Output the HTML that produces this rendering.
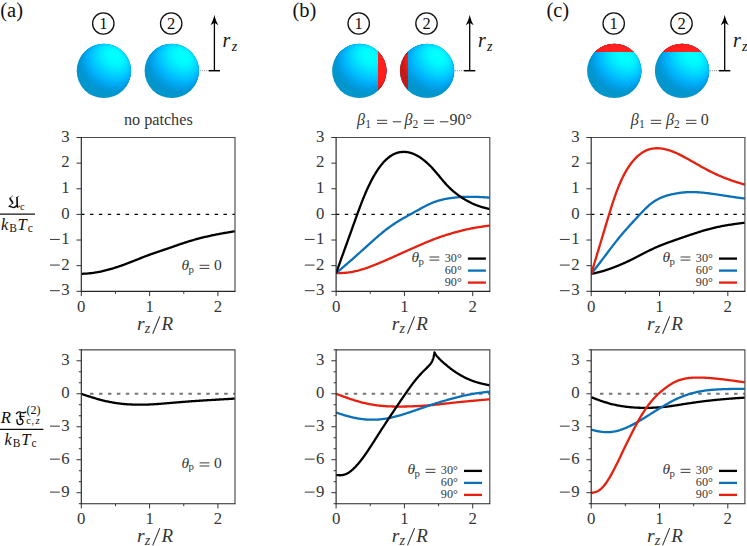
<!DOCTYPE html>
<html><head><meta charset="utf-8"><title>figure</title>
<style>html,body{margin:0;padding:0;background:#fff;}svg{display:block;}</style></head>
<body>
<svg width="747" height="546" viewBox="0 0 747 546" font-family="Liberation Serif, serif">
<rect width="747" height="546" fill="#fff"/>
<defs>
<clipPath id="sclip"><circle cx="0" cy="0" r="27.2"/></clipPath>
<clipPath id="pR"><rect x="19.1" y="-28.2" width="12" height="56.4"/></clipPath>
<clipPath id="pL"><rect x="-29.2" y="-28.2" width="10.099999999999998" height="56.4"/></clipPath>
<clipPath id="pT"><rect x="-28.2" y="-29.2" width="56.4" height="10.3"/></clipPath>
<g id="sphC" clip-path="url(#sclip)">
<circle cx="0" cy="0" r="28.2" fill="rgb(3,150,204)"/>
<g transform="rotate(-54.5)">
<ellipse cx="0.33" cy="0" rx="19.74" ry="27.20" fill="rgb(3,150,206)"/>
<ellipse cx="1.00" cy="0" rx="19.72" ry="27.16" fill="rgb(3,150,209)"/>
<ellipse cx="1.67" cy="0" rx="19.67" ry="27.09" fill="rgb(3,151,212)"/>
<ellipse cx="2.34" cy="0" rx="19.59" ry="26.99" fill="rgb(3,152,216)"/>
<ellipse cx="3.01" cy="0" rx="19.49" ry="26.85" fill="rgb(3,154,219)"/>
<ellipse cx="3.68" cy="0" rx="19.36" ry="26.67" fill="rgb(2,155,222)"/>
<ellipse cx="4.34" cy="0" rx="19.21" ry="26.46" fill="rgb(2,157,226)"/>
<ellipse cx="5.01" cy="0" rx="19.03" ry="26.21" fill="rgb(2,159,229)"/>
<ellipse cx="5.68" cy="0" rx="18.82" ry="25.92" fill="rgb(2,162,232)"/>
<ellipse cx="6.35" cy="0" rx="18.58" ry="25.59" fill="rgb(2,165,235)"/>
<ellipse cx="7.02" cy="0" rx="18.31" ry="25.22" fill="rgb(2,168,239)"/>
<ellipse cx="7.69" cy="0" rx="18.00" ry="24.80" fill="rgb(2,171,242)"/>
<ellipse cx="8.35" cy="0" rx="17.67" ry="24.34" fill="rgb(2,174,245)"/>
<ellipse cx="9.02" cy="0" rx="17.30" ry="23.83" fill="rgb(2,178,249)"/>
<ellipse cx="9.69" cy="0" rx="16.89" ry="23.27" fill="rgb(1,182,252)"/>
<ellipse cx="10.36" cy="0" rx="16.45" ry="22.65" fill="rgb(1,187,255)"/>
<ellipse cx="11.03" cy="0" rx="15.95" ry="21.98" fill="rgb(1,191,255)"/>
<ellipse cx="11.70" cy="0" rx="15.42" ry="21.23" fill="rgb(1,196,255)"/>
<ellipse cx="12.36" cy="0" rx="14.82" ry="20.42" fill="rgb(1,201,255)"/>
<ellipse cx="13.03" cy="0" rx="14.17" ry="19.52" fill="rgb(1,207,255)"/>
<ellipse cx="13.70" cy="0" rx="13.45" ry="18.53" fill="rgb(1,213,255)"/>
<ellipse cx="14.37" cy="0" rx="12.65" ry="17.42" fill="rgb(1,218,255)"/>
<ellipse cx="15.04" cy="0" rx="11.75" ry="16.19" fill="rgb(1,225,255)"/>
<ellipse cx="15.71" cy="0" rx="10.74" ry="14.79" fill="rgb(0,231,255)"/>
<ellipse cx="16.37" cy="0" rx="9.56" ry="13.17" fill="rgb(0,238,255)"/>
<ellipse cx="17.04" cy="0" rx="8.16" ry="11.23" fill="rgb(0,245,255)"/>
<ellipse cx="17.71" cy="0" rx="6.38" ry="8.78" fill="rgb(0,252,255)"/>
<ellipse cx="18.38" cy="0" rx="3.72" ry="5.12" fill="rgb(0,255,255)"/>
</g></g>
<g id="sphR" clip-path="url(#sclip)">
<circle cx="0" cy="0" r="28.2" fill="rgb(198,24,22)"/>
<g transform="rotate(-54.5)">
<ellipse cx="0.33" cy="0" rx="19.74" ry="27.20" fill="rgb(201,24,22)"/>
<ellipse cx="1.00" cy="0" rx="19.72" ry="27.16" fill="rgb(206,25,23)"/>
<ellipse cx="1.67" cy="0" rx="19.67" ry="27.09" fill="rgb(211,25,23)"/>
<ellipse cx="2.34" cy="0" rx="19.59" ry="26.99" fill="rgb(217,26,24)"/>
<ellipse cx="3.01" cy="0" rx="19.49" ry="26.85" fill="rgb(222,26,24)"/>
<ellipse cx="3.68" cy="0" rx="19.36" ry="26.67" fill="rgb(227,26,24)"/>
<ellipse cx="4.34" cy="0" rx="19.21" ry="26.46" fill="rgb(233,27,25)"/>
<ellipse cx="5.01" cy="0" rx="19.03" ry="26.21" fill="rgb(238,27,25)"/>
<ellipse cx="5.68" cy="0" rx="18.82" ry="25.92" fill="rgb(244,28,26)"/>
<ellipse cx="6.35" cy="0" rx="18.58" ry="25.59" fill="rgb(249,28,26)"/>
<ellipse cx="7.02" cy="0" rx="18.31" ry="25.22" fill="rgb(254,28,26)"/>
<ellipse cx="7.69" cy="0" rx="18.00" ry="24.80" fill="rgb(255,29,27)"/>
<ellipse cx="8.35" cy="0" rx="17.67" ry="24.34" fill="rgb(255,29,27)"/>
<ellipse cx="9.02" cy="0" rx="17.30" ry="23.83" fill="rgb(255,30,28)"/>
<ellipse cx="9.69" cy="0" rx="16.89" ry="23.27" fill="rgb(255,30,28)"/>
<ellipse cx="10.36" cy="0" rx="16.45" ry="22.65" fill="rgb(255,31,29)"/>
<ellipse cx="11.03" cy="0" rx="15.95" ry="21.98" fill="rgb(255,31,29)"/>
<ellipse cx="11.70" cy="0" rx="15.42" ry="21.23" fill="rgb(255,32,30)"/>
<ellipse cx="12.36" cy="0" rx="14.82" ry="20.42" fill="rgb(255,32,30)"/>
<ellipse cx="13.03" cy="0" rx="14.17" ry="19.52" fill="rgb(255,32,30)"/>
<ellipse cx="13.70" cy="0" rx="13.45" ry="18.53" fill="rgb(255,33,31)"/>
<ellipse cx="14.37" cy="0" rx="12.65" ry="17.42" fill="rgb(255,33,31)"/>
<ellipse cx="15.04" cy="0" rx="11.75" ry="16.19" fill="rgb(255,34,32)"/>
<ellipse cx="15.71" cy="0" rx="10.74" ry="14.79" fill="rgb(255,34,32)"/>
<ellipse cx="16.37" cy="0" rx="9.56" ry="13.17" fill="rgb(255,34,32)"/>
<ellipse cx="17.04" cy="0" rx="8.16" ry="11.23" fill="rgb(255,35,33)"/>
<ellipse cx="17.71" cy="0" rx="6.38" ry="8.78" fill="rgb(255,35,33)"/>
<ellipse cx="18.38" cy="0" rx="3.72" ry="5.12" fill="rgb(255,36,34)"/>
</g></g>
</defs>
<use href="#sphC" x="103.9" y="70.9"/>
<circle cx="103.30000000000001" cy="23.5" r="10.7" fill="none" stroke="#111" stroke-width="1.3"/>
<text x="103.30" y="29.20" font-size="16.5" text-anchor="middle" fill="#111"  >1</text>
<use href="#sphC" x="171.8" y="70.9"/>
<circle cx="171.20000000000002" cy="23.5" r="10.7" fill="none" stroke="#111" stroke-width="1.3"/>
<text x="171.20" y="29.20" font-size="16.5" text-anchor="middle" fill="#111"  >2</text>
<line x1="199.8" y1="70.7" x2="208.9" y2="70.7" stroke="#888" stroke-width="1" stroke-dasharray="1,1"/>
<line x1="208.8" y1="70.7" x2="220.0" y2="70.7" stroke="#000" stroke-width="1.5"/>
<line x1="214.4" y1="70.7" x2="214.4" y2="18" stroke="#000" stroke-width="1.3"/>
<path d="M214.4,14.8 C215.20000000000002,19 216.70000000000002,22.3 218.4,25.2 L214.4,22.8 L210.4,25.2 C212.1,22.3 213.6,19 214.4,14.8 Z" fill="#000"/>
<text x="222.60" y="47.30" font-size="20" text-anchor="start" fill="#111" font-style="italic" >r</text>
<text x="231.80" y="50.90" font-size="14" text-anchor="start" fill="#111" font-style="italic" >z</text>
<use href="#sphC" x="359.3" y="70.9"/>
<g transform="translate(359.3,70.9)"><g clip-path="url(#pR)"><use href="#sphR"/></g></g>
<circle cx="358.7" cy="23.5" r="10.7" fill="none" stroke="#111" stroke-width="1.3"/>
<text x="358.70" y="29.20" font-size="16.5" text-anchor="middle" fill="#111"  >1</text>
<use href="#sphC" x="427.1" y="70.9"/>
<g transform="translate(427.1,70.9)"><g clip-path="url(#pL)"><use href="#sphR"/></g></g>
<circle cx="426.5" cy="23.5" r="10.7" fill="none" stroke="#111" stroke-width="1.3"/>
<text x="426.50" y="29.20" font-size="16.5" text-anchor="middle" fill="#111"  >2</text>
<line x1="455.1" y1="70.7" x2="464.20000000000005" y2="70.7" stroke="#888" stroke-width="1" stroke-dasharray="1,1"/>
<line x1="464.1" y1="70.7" x2="475.30000000000007" y2="70.7" stroke="#000" stroke-width="1.5"/>
<line x1="469.70000000000005" y1="70.7" x2="469.70000000000005" y2="18" stroke="#000" stroke-width="1.3"/>
<path d="M469.70000000000005,14.8 C470.50000000000006,19 472.00000000000006,22.3 473.70000000000005,25.2 L469.70000000000005,22.8 L465.70000000000005,25.2 C467.40000000000003,22.3 468.90000000000003,19 469.70000000000005,14.8 Z" fill="#000"/>
<text x="477.90" y="47.30" font-size="20" text-anchor="start" fill="#111" font-style="italic" >r</text>
<text x="487.10" y="50.90" font-size="14" text-anchor="start" fill="#111" font-style="italic" >z</text>
<use href="#sphC" x="614.3" y="70.9"/>
<g transform="translate(614.3,70.9)"><g clip-path="url(#pT)"><use href="#sphR"/></g></g>
<circle cx="613.6999999999999" cy="23.5" r="10.7" fill="none" stroke="#111" stroke-width="1.3"/>
<text x="613.70" y="29.20" font-size="16.5" text-anchor="middle" fill="#111"  >1</text>
<use href="#sphC" x="682.1" y="70.9"/>
<g transform="translate(682.1,70.9)"><g clip-path="url(#pT)"><use href="#sphR"/></g></g>
<circle cx="681.5" cy="23.5" r="10.7" fill="none" stroke="#111" stroke-width="1.3"/>
<text x="681.50" y="29.20" font-size="16.5" text-anchor="middle" fill="#111"  >2</text>
<line x1="710.1" y1="70.7" x2="719.2" y2="70.7" stroke="#888" stroke-width="1" stroke-dasharray="1,1"/>
<line x1="719.1" y1="70.7" x2="730.3000000000001" y2="70.7" stroke="#000" stroke-width="1.5"/>
<line x1="724.7" y1="70.7" x2="724.7" y2="18" stroke="#000" stroke-width="1.3"/>
<path d="M724.7,14.8 C725.5,19 727.0,22.3 728.7,25.2 L724.7,22.8 L720.7,25.2 C722.4000000000001,22.3 723.9000000000001,19 724.7,14.8 Z" fill="#000"/>
<text x="732.90" y="47.30" font-size="20" text-anchor="start" fill="#111" font-style="italic" >r</text>
<text x="742.10" y="50.90" font-size="14" text-anchor="start" fill="#111" font-style="italic" >z</text>
<text x="0.30" y="16.50" font-size="20.5" text-anchor="start" fill="#111"  >(a)</text>
<text x="292.40" y="16.50" font-size="20.5" text-anchor="start" fill="#111"  >(b)</text>
<text x="546.40" y="16.50" font-size="20.5" text-anchor="start" fill="#111"  >(c)</text>
<text x="158.30" y="125.10" font-size="16.2" text-anchor="middle" fill="#363636"  >no patches</text>
<text x="357.00" y="125.20" font-size="16" text-anchor="start" fill="#363636" font-style="italic" >β</text>
<text x="365.20" y="127.80" font-size="11.5" text-anchor="start" fill="#363636"  >1</text>
<path d="M377.00,120.30 h10.2 M377.00,123.40 h10.2" stroke="#363636" stroke-width="0.95" fill="none"/>
<path d="M392.80,121.80 h8.4" stroke="#363636" stroke-width="1.0" fill="none"/>
<text x="404.40" y="125.20" font-size="16" text-anchor="start" fill="#363636" font-style="italic" >β</text>
<text x="412.60" y="127.80" font-size="11.5" text-anchor="start" fill="#363636"  >2</text>
<path d="M423.80,120.30 h10.2 M423.80,123.40 h10.2" stroke="#363636" stroke-width="0.95" fill="none"/>
<path d="M439.80,121.80 h8.6" stroke="#363636" stroke-width="1.0" fill="none"/>
<text x="449.60" y="125.20" font-size="16" text-anchor="start" fill="#363636"  >90°</text>
<text x="630.70" y="125.20" font-size="16" text-anchor="start" fill="#363636" font-style="italic" >β</text>
<text x="638.90" y="127.80" font-size="11.5" text-anchor="start" fill="#363636"  >1</text>
<path d="M650.80,120.30 h10.4 M650.80,123.40 h10.4" stroke="#363636" stroke-width="0.95" fill="none"/>
<text x="665.90" y="125.20" font-size="16" text-anchor="start" fill="#363636" font-style="italic" >β</text>
<text x="674.10" y="127.80" font-size="11.5" text-anchor="start" fill="#363636"  >2</text>
<path d="M686.00,120.30 h10.4 M686.00,123.40 h10.4" stroke="#363636" stroke-width="0.95" fill="none"/>
<text x="700.80" y="125.20" font-size="16" text-anchor="start" fill="#363636"  >0</text>
<line x1="81.30" y1="214.40" x2="235.00" y2="214.40" stroke="#000" stroke-width="1.15" stroke-dasharray="3.4,5.5" stroke-dashoffset="0.2"/>
<clipPath id="cl0t"><rect x="81.30" y="137.50" width="154.30" height="153.80"/></clipPath>
<g clip-path="url(#cl0t)">
<path d="M81.30,273.88 L82.27,273.83 L83.23,273.77 L84.20,273.72 L85.17,273.66 L86.13,273.60 L87.10,273.53 L88.07,273.45 L89.03,273.36 L90.00,273.26 L90.97,273.16 L91.93,273.04 L92.90,272.92 L93.87,272.78 L94.83,272.64 L95.80,272.48 L96.77,272.32 L97.73,272.14 L98.70,271.96 L99.67,271.77 L100.63,271.57 L101.60,271.36 L102.57,271.15 L103.53,270.92 L104.50,270.69 L105.47,270.45 L106.43,270.21 L107.40,269.96 L108.37,269.70 L109.33,269.43 L110.30,269.16 L111.27,268.88 L112.23,268.60 L113.20,268.31 L114.17,268.01 L115.13,267.71 L116.10,267.40 L117.07,267.08 L118.03,266.76 L119.00,266.43 L119.97,266.10 L120.93,265.76 L121.90,265.42 L122.87,265.07 L123.83,264.72 L124.80,264.36 L125.77,264.00 L126.73,263.64 L127.70,263.27 L128.67,262.90 L129.63,262.53 L130.60,262.16 L131.57,261.78 L132.53,261.40 L133.50,261.02 L134.47,260.63 L135.43,260.25 L136.40,259.86 L137.37,259.47 L138.33,259.08 L139.30,258.70 L140.27,258.31 L141.23,257.93 L142.20,257.54 L143.17,257.16 L144.13,256.78 L145.10,256.41 L146.07,256.04 L147.03,255.67 L148.00,255.31 L148.97,254.95 L149.93,254.59 L150.90,254.24 L151.87,253.90 L152.83,253.56 L153.80,253.22 L154.77,252.89 L155.73,252.56 L156.70,252.23 L157.67,251.90 L158.63,251.58 L159.60,251.26 L160.57,250.93 L161.53,250.61 L162.50,250.29 L163.47,249.96 L164.43,249.64 L165.40,249.31 L166.37,248.98 L167.33,248.65 L168.30,248.32 L169.27,247.99 L170.23,247.66 L171.20,247.32 L172.17,246.98 L173.13,246.64 L174.10,246.30 L175.07,245.96 L176.03,245.62 L177.00,245.29 L177.97,244.95 L178.93,244.61 L179.90,244.28 L180.87,243.95 L181.83,243.63 L182.80,243.30 L183.77,242.98 L184.73,242.67 L185.70,242.35 L186.67,242.05 L187.63,241.74 L188.60,241.44 L189.57,241.15 L190.53,240.86 L191.50,240.57 L192.47,240.29 L193.43,240.01 L194.40,239.73 L195.37,239.46 L196.33,239.19 L197.30,238.93 L198.27,238.67 L199.23,238.42 L200.20,238.17 L201.17,237.92 L202.13,237.68 L203.10,237.44 L204.07,237.20 L205.03,236.97 L206.00,236.75 L206.97,236.52 L207.93,236.30 L208.90,236.08 L209.87,235.87 L210.83,235.66 L211.80,235.45 L212.77,235.24 L213.73,235.04 L214.70,234.84 L215.67,234.64 L216.63,234.45 L217.60,234.26 L218.57,234.07 L219.53,233.88 L220.50,233.70 L221.47,233.52 L222.43,233.35 L223.40,233.17 L224.37,233.00 L225.33,232.84 L226.30,232.67 L227.27,232.51 L228.23,232.34 L229.20,232.18 L230.17,232.02 L231.13,231.86 L232.10,231.70 L233.07,231.54 L234.03,231.38 L235.00,231.21" fill="none" stroke="#000" stroke-width="2.3" stroke-linejoin="round" />
</g>
<path d="M81.30,137.50 H235.00 V291.30" fill="none" stroke="#4a4a4a" stroke-width="1.15"/>
<path d="M81.30,137.00 V291.30 H235.50" fill="none" stroke="#262626" stroke-width="1.15" stroke-linejoin="miter"/>
<line x1="81.30" y1="291.30" x2="81.30" y2="296.10" stroke="#333" stroke-width="1"/>
<text x="81.30" y="311.90" font-size="16.8" text-anchor="middle" fill="#363636"  >0</text>
<line x1="115.46" y1="291.30" x2="115.46" y2="293.80" stroke="#333" stroke-width="1"/>
<line x1="149.61" y1="291.30" x2="149.61" y2="296.10" stroke="#333" stroke-width="1"/>
<text x="149.61" y="311.90" font-size="16.8" text-anchor="middle" fill="#363636"  >1</text>
<line x1="183.77" y1="291.30" x2="183.77" y2="293.80" stroke="#333" stroke-width="1"/>
<line x1="217.92" y1="291.30" x2="217.92" y2="296.10" stroke="#333" stroke-width="1"/>
<text x="217.92" y="311.90" font-size="16.8" text-anchor="middle" fill="#363636"  >2</text>
<line x1="76.50" y1="291.30" x2="81.30" y2="291.30" stroke="#333" stroke-width="1"/>
<text x="69.70" y="295.40" font-size="16.8" text-anchor="end" fill="#363636"  >3</text>
<path d="M50.00,290.70 h9.8" stroke="#363636" stroke-width="1.0" fill="none"/>
<line x1="76.50" y1="265.67" x2="81.30" y2="265.67" stroke="#333" stroke-width="1"/>
<text x="69.70" y="269.77" font-size="16.8" text-anchor="end" fill="#363636"  >2</text>
<path d="M50.00,265.07 h9.8" stroke="#363636" stroke-width="1.0" fill="none"/>
<line x1="76.50" y1="240.03" x2="81.30" y2="240.03" stroke="#333" stroke-width="1"/>
<text x="69.70" y="244.13" font-size="16.8" text-anchor="end" fill="#363636"  >1</text>
<path d="M50.00,239.43 h9.8" stroke="#363636" stroke-width="1.0" fill="none"/>
<line x1="76.50" y1="214.40" x2="81.30" y2="214.40" stroke="#333" stroke-width="1"/>
<text x="69.70" y="218.50" font-size="16.8" text-anchor="end" fill="#363636"  >0</text>
<line x1="76.50" y1="188.77" x2="81.30" y2="188.77" stroke="#333" stroke-width="1"/>
<text x="69.70" y="192.87" font-size="16.8" text-anchor="end" fill="#363636"  >1</text>
<line x1="76.50" y1="163.13" x2="81.30" y2="163.13" stroke="#333" stroke-width="1"/>
<text x="69.70" y="167.23" font-size="16.8" text-anchor="end" fill="#363636"  >2</text>
<line x1="76.50" y1="137.50" x2="81.30" y2="137.50" stroke="#333" stroke-width="1"/>
<text x="69.70" y="141.60" font-size="16.8" text-anchor="end" fill="#363636"  >3</text>
<text x="137.00" y="329.80" font-size="19.5" text-anchor="start" fill="#363636" font-style="italic" >r</text>
<text x="144.80" y="332.80" font-size="14" text-anchor="start" fill="#363636" font-style="italic" >z</text>
<line x1="152.70" y1="333.70" x2="159.80" y2="316.40" stroke="#363636" stroke-width="1.1"/>
<text x="161.40" y="329.80" font-size="19" text-anchor="start" fill="#363636" font-style="italic" >R</text>
<line x1="90.05" y1="393.77" x2="235.00" y2="393.77" stroke="#767676" stroke-width="1.9" stroke-dasharray="3.5,5.44"/>
<clipPath id="cl0b"><rect x="81.30" y="349.80" width="154.30" height="153.90"/></clipPath>
<g clip-path="url(#cl0b)">
<path d="M81.30,393.88 L82.27,394.20 L83.23,394.52 L84.20,394.84 L85.17,395.15 L86.13,395.47 L87.10,395.78 L88.07,396.10 L89.03,396.41 L90.00,396.71 L90.97,397.02 L91.93,397.32 L92.90,397.62 L93.87,397.92 L94.83,398.21 L95.80,398.50 L96.77,398.78 L97.73,399.05 L98.70,399.33 L99.67,399.59 L100.63,399.85 L101.60,400.10 L102.57,400.35 L103.53,400.59 L104.50,400.82 L105.47,401.05 L106.43,401.26 L107.40,401.47 L108.37,401.68 L109.33,401.87 L110.30,402.06 L111.27,402.24 L112.23,402.42 L113.20,402.59 L114.17,402.75 L115.13,402.90 L116.10,403.05 L117.07,403.19 L118.03,403.32 L119.00,403.45 L119.97,403.57 L120.93,403.69 L121.90,403.79 L122.87,403.89 L123.83,403.99 L124.80,404.08 L125.77,404.16 L126.73,404.23 L127.70,404.30 L128.67,404.36 L129.63,404.42 L130.60,404.47 L131.57,404.52 L132.53,404.56 L133.50,404.59 L134.47,404.62 L135.43,404.65 L136.40,404.67 L137.37,404.68 L138.33,404.69 L139.30,404.70 L140.27,404.70 L141.23,404.69 L142.20,404.69 L143.17,404.67 L144.13,404.66 L145.10,404.64 L146.07,404.61 L147.03,404.58 L148.00,404.55 L148.97,404.51 L149.93,404.47 L150.90,404.43 L151.87,404.38 L152.83,404.33 L153.80,404.27 L154.77,404.21 L155.73,404.15 L156.70,404.09 L157.67,404.02 L158.63,403.94 L159.60,403.87 L160.57,403.79 L161.53,403.71 L162.50,403.63 L163.47,403.55 L164.43,403.46 L165.40,403.38 L166.37,403.30 L167.33,403.21 L168.30,403.13 L169.27,403.05 L170.23,402.96 L171.20,402.88 L172.17,402.80 L173.13,402.72 L174.10,402.64 L175.07,402.56 L176.03,402.48 L177.00,402.40 L177.97,402.32 L178.93,402.24 L179.90,402.16 L180.87,402.08 L181.83,402.01 L182.80,401.93 L183.77,401.85 L184.73,401.78 L185.70,401.70 L186.67,401.63 L187.63,401.56 L188.60,401.48 L189.57,401.41 L190.53,401.34 L191.50,401.27 L192.47,401.20 L193.43,401.14 L194.40,401.07 L195.37,401.00 L196.33,400.94 L197.30,400.87 L198.27,400.81 L199.23,400.74 L200.20,400.68 L201.17,400.62 L202.13,400.56 L203.10,400.50 L204.07,400.44 L205.03,400.38 L206.00,400.32 L206.97,400.26 L207.93,400.20 L208.90,400.15 L209.87,400.09 L210.83,400.03 L211.80,399.97 L212.77,399.91 L213.73,399.86 L214.70,399.80 L215.67,399.74 L216.63,399.68 L217.60,399.63 L218.57,399.57 L219.53,399.51 L220.50,399.45 L221.47,399.40 L222.43,399.34 L223.40,399.28 L224.37,399.22 L225.33,399.16 L226.30,399.11 L227.27,399.05 L228.23,398.99 L229.20,398.94 L230.17,398.88 L231.13,398.83 L232.10,398.77 L233.07,398.72 L234.03,398.66 L235.00,398.61" fill="none" stroke="#000" stroke-width="2.3" stroke-linejoin="round" />
</g>
<path d="M81.30,349.80 H235.00 V503.70" fill="none" stroke="#4a4a4a" stroke-width="1.15"/>
<path d="M81.30,349.30 V503.70 H235.50" fill="none" stroke="#262626" stroke-width="1.15" stroke-linejoin="miter"/>
<line x1="81.30" y1="503.70" x2="81.30" y2="508.50" stroke="#333" stroke-width="1"/>
<text x="81.30" y="524.30" font-size="16.8" text-anchor="middle" fill="#363636"  >0</text>
<line x1="115.46" y1="503.70" x2="115.46" y2="506.20" stroke="#333" stroke-width="1"/>
<line x1="149.61" y1="503.70" x2="149.61" y2="508.50" stroke="#333" stroke-width="1"/>
<text x="149.61" y="524.30" font-size="16.8" text-anchor="middle" fill="#363636"  >1</text>
<line x1="183.77" y1="503.70" x2="183.77" y2="506.20" stroke="#333" stroke-width="1"/>
<line x1="217.92" y1="503.70" x2="217.92" y2="508.50" stroke="#333" stroke-width="1"/>
<text x="217.92" y="524.30" font-size="16.8" text-anchor="middle" fill="#363636"  >2</text>
<line x1="78.80" y1="503.70" x2="81.30" y2="503.70" stroke="#333" stroke-width="1"/>
<line x1="76.50" y1="492.71" x2="81.30" y2="492.71" stroke="#333" stroke-width="1"/>
<text x="69.70" y="496.81" font-size="16.8" text-anchor="end" fill="#363636"  >9</text>
<path d="M50.00,492.11 h9.8" stroke="#363636" stroke-width="1.0" fill="none"/>
<line x1="78.80" y1="481.71" x2="81.30" y2="481.71" stroke="#333" stroke-width="1"/>
<line x1="78.80" y1="470.72" x2="81.30" y2="470.72" stroke="#333" stroke-width="1"/>
<line x1="76.50" y1="459.73" x2="81.30" y2="459.73" stroke="#333" stroke-width="1"/>
<text x="69.70" y="463.83" font-size="16.8" text-anchor="end" fill="#363636"  >6</text>
<path d="M50.00,459.13 h9.8" stroke="#363636" stroke-width="1.0" fill="none"/>
<line x1="78.80" y1="448.74" x2="81.30" y2="448.74" stroke="#333" stroke-width="1"/>
<line x1="78.80" y1="437.74" x2="81.30" y2="437.74" stroke="#333" stroke-width="1"/>
<line x1="76.50" y1="426.75" x2="81.30" y2="426.75" stroke="#333" stroke-width="1"/>
<text x="69.70" y="430.85" font-size="16.8" text-anchor="end" fill="#363636"  >3</text>
<path d="M50.00,426.15 h9.8" stroke="#363636" stroke-width="1.0" fill="none"/>
<line x1="78.80" y1="415.76" x2="81.30" y2="415.76" stroke="#333" stroke-width="1"/>
<line x1="78.80" y1="404.76" x2="81.30" y2="404.76" stroke="#333" stroke-width="1"/>
<line x1="76.50" y1="393.77" x2="81.30" y2="393.77" stroke="#333" stroke-width="1"/>
<text x="69.70" y="397.87" font-size="16.8" text-anchor="end" fill="#363636"  >0</text>
<line x1="78.80" y1="382.78" x2="81.30" y2="382.78" stroke="#333" stroke-width="1"/>
<line x1="78.80" y1="371.79" x2="81.30" y2="371.79" stroke="#333" stroke-width="1"/>
<line x1="76.50" y1="360.79" x2="81.30" y2="360.79" stroke="#333" stroke-width="1"/>
<text x="69.70" y="364.89" font-size="16.8" text-anchor="end" fill="#363636"  >3</text>
<line x1="78.80" y1="349.80" x2="81.30" y2="349.80" stroke="#333" stroke-width="1"/>
<text x="137.00" y="541.50" font-size="19.5" text-anchor="start" fill="#363636" font-style="italic" >r</text>
<text x="144.80" y="544.50" font-size="14" text-anchor="start" fill="#363636" font-style="italic" >z</text>
<line x1="152.70" y1="545.40" x2="159.80" y2="528.10" stroke="#363636" stroke-width="1.1"/>
<text x="161.40" y="541.50" font-size="19" text-anchor="start" fill="#363636" font-style="italic" >R</text>
<line x1="336.10" y1="214.40" x2="489.80" y2="214.40" stroke="#000" stroke-width="1.15" stroke-dasharray="3.4,5.5" stroke-dashoffset="0.2"/>
<clipPath id="cl1t"><rect x="336.10" y="137.50" width="154.30" height="153.80"/></clipPath>
<g clip-path="url(#cl1t)">
<path d="M336.10,273.11 L337.07,273.09 L338.03,273.08 L339.00,273.06 L339.97,273.04 L340.93,273.01 L341.90,272.98 L342.87,272.93 L343.83,272.88 L344.80,272.82 L345.77,272.74 L346.73,272.66 L347.70,272.56 L348.67,272.44 L349.63,272.32 L350.60,272.17 L351.57,272.01 L352.53,271.84 L353.50,271.65 L354.47,271.45 L355.43,271.23 L356.40,271.00 L357.37,270.76 L358.33,270.51 L359.30,270.25 L360.27,269.98 L361.23,269.70 L362.20,269.41 L363.17,269.11 L364.13,268.80 L365.10,268.48 L366.07,268.15 L367.03,267.81 L368.00,267.47 L368.97,267.12 L369.93,266.76 L370.90,266.39 L371.87,266.02 L372.83,265.65 L373.80,265.27 L374.77,264.89 L375.73,264.51 L376.70,264.12 L377.67,263.73 L378.63,263.33 L379.60,262.93 L380.57,262.53 L381.53,262.12 L382.50,261.71 L383.47,261.29 L384.43,260.88 L385.40,260.46 L386.37,260.03 L387.33,259.61 L388.30,259.18 L389.27,258.76 L390.23,258.33 L391.20,257.90 L392.17,257.47 L393.13,257.04 L394.10,256.60 L395.07,256.17 L396.03,255.73 L397.00,255.30 L397.97,254.86 L398.93,254.42 L399.90,253.98 L400.87,253.55 L401.83,253.11 L402.80,252.67 L403.77,252.24 L404.73,251.80 L405.70,251.37 L406.67,250.94 L407.63,250.50 L408.60,250.07 L409.57,249.64 L410.53,249.22 L411.50,248.79 L412.47,248.36 L413.43,247.94 L414.40,247.51 L415.37,247.09 L416.33,246.66 L417.30,246.24 L418.27,245.81 L419.23,245.39 L420.20,244.96 L421.17,244.54 L422.13,244.11 L423.10,243.69 L424.07,243.27 L425.03,242.86 L426.00,242.44 L426.97,242.04 L427.93,241.63 L428.90,241.24 L429.87,240.84 L430.83,240.45 L431.80,240.07 L432.77,239.69 L433.73,239.32 L434.70,238.95 L435.67,238.59 L436.63,238.23 L437.60,237.88 L438.57,237.54 L439.53,237.20 L440.50,236.86 L441.47,236.53 L442.43,236.20 L443.40,235.88 L444.37,235.57 L445.33,235.26 L446.30,234.96 L447.27,234.66 L448.23,234.36 L449.20,234.07 L450.17,233.78 L451.13,233.50 L452.10,233.22 L453.07,232.95 L454.03,232.67 L455.00,232.40 L455.97,232.14 L456.93,231.87 L457.90,231.61 L458.87,231.35 L459.83,231.10 L460.80,230.85 L461.77,230.61 L462.73,230.37 L463.70,230.13 L464.67,229.90 L465.63,229.68 L466.60,229.46 L467.57,229.25 L468.53,229.04 L469.50,228.83 L470.47,228.63 L471.43,228.44 L472.40,228.25 L473.37,228.06 L474.33,227.89 L475.30,227.71 L476.27,227.54 L477.23,227.38 L478.20,227.22 L479.17,227.07 L480.13,226.92 L481.10,226.77 L482.07,226.63 L483.03,226.49 L484.00,226.35 L484.97,226.21 L485.93,226.08 L486.90,225.94 L487.87,225.81 L488.83,225.68 L489.80,225.55" fill="none" stroke="#e6200f" stroke-width="2.3" stroke-linejoin="round" />
<path d="M336.10,273.10 L337.07,272.29 L338.03,271.47 L339.00,270.65 L339.97,269.83 L340.93,269.02 L341.90,268.20 L342.87,267.38 L343.83,266.56 L344.80,265.73 L345.77,264.91 L346.73,264.08 L347.70,263.25 L348.67,262.41 L349.63,261.58 L350.60,260.73 L351.57,259.89 L352.53,259.04 L353.50,258.18 L354.47,257.32 L355.43,256.46 L356.40,255.60 L357.37,254.73 L358.33,253.87 L359.30,253.00 L360.27,252.14 L361.23,251.27 L362.20,250.40 L363.17,249.53 L364.13,248.66 L365.10,247.79 L366.07,246.92 L367.03,246.05 L368.00,245.17 L368.97,244.30 L369.93,243.43 L370.90,242.56 L371.87,241.69 L372.83,240.82 L373.80,239.96 L374.77,239.11 L375.73,238.26 L376.70,237.41 L377.67,236.57 L378.63,235.74 L379.60,234.92 L380.57,234.11 L381.53,233.31 L382.50,232.51 L383.47,231.73 L384.43,230.96 L385.40,230.20 L386.37,229.45 L387.33,228.72 L388.30,228.00 L389.27,227.29 L390.23,226.59 L391.20,225.90 L392.17,225.23 L393.13,224.57 L394.10,223.92 L395.07,223.28 L396.03,222.65 L397.00,222.04 L397.97,221.43 L398.93,220.84 L399.90,220.25 L400.87,219.68 L401.83,219.11 L402.80,218.55 L403.77,218.00 L404.73,217.46 L405.70,216.92 L406.67,216.38 L407.63,215.85 L408.60,215.32 L409.57,214.78 L410.53,214.24 L411.50,213.71 L412.47,213.17 L413.43,212.63 L414.40,212.09 L415.37,211.55 L416.33,211.02 L417.30,210.48 L418.27,209.94 L419.23,209.41 L420.20,208.88 L421.17,208.35 L422.13,207.82 L423.10,207.30 L424.07,206.79 L425.03,206.29 L426.00,205.79 L426.97,205.31 L427.93,204.83 L428.90,204.37 L429.87,203.92 L430.83,203.48 L431.80,203.06 L432.77,202.66 L433.73,202.28 L434.70,201.91 L435.67,201.56 L436.63,201.23 L437.60,200.92 L438.57,200.63 L439.53,200.35 L440.50,200.08 L441.47,199.83 L442.43,199.60 L443.40,199.38 L444.37,199.17 L445.33,198.98 L446.30,198.79 L447.27,198.62 L448.23,198.46 L449.20,198.30 L450.17,198.16 L451.13,198.02 L452.10,197.89 L453.07,197.77 L454.03,197.66 L455.00,197.56 L455.97,197.46 L456.93,197.37 L457.90,197.28 L458.87,197.21 L459.83,197.14 L460.80,197.08 L461.77,197.02 L462.73,196.97 L463.70,196.93 L464.67,196.90 L465.63,196.87 L466.60,196.85 L467.57,196.83 L468.53,196.82 L469.50,196.81 L470.47,196.81 L471.43,196.81 L472.40,196.82 L473.37,196.83 L474.33,196.85 L475.30,196.87 L476.27,196.90 L477.23,196.93 L478.20,196.96 L479.17,197.00 L480.13,197.04 L481.10,197.09 L482.07,197.13 L483.03,197.19 L484.00,197.24 L484.97,197.30 L485.93,197.36 L486.90,197.42 L487.87,197.48 L488.83,197.54 L489.80,197.60" fill="none" stroke="#0a70b8" stroke-width="2.3" stroke-linejoin="round" />
<path d="M336.10,273.10 L337.07,270.41 L338.03,267.72 L339.00,265.03 L339.97,262.34 L340.93,259.66 L341.90,256.97 L342.87,254.29 L343.83,251.60 L344.80,248.92 L345.77,246.24 L346.73,243.56 L347.70,240.88 L348.67,238.19 L349.63,235.50 L350.60,232.81 L351.57,230.11 L352.53,227.41 L353.50,224.71 L354.47,222.02 L355.43,219.33 L356.40,216.66 L357.37,214.00 L358.33,211.36 L359.30,208.75 L360.27,206.17 L361.23,203.63 L362.20,201.14 L363.17,198.71 L364.13,196.33 L365.10,194.01 L366.07,191.76 L367.03,189.58 L368.00,187.45 L368.97,185.40 L369.93,183.41 L370.90,181.49 L371.87,179.64 L372.83,177.85 L373.80,176.13 L374.77,174.47 L375.73,172.87 L376.70,171.34 L377.67,169.87 L378.63,168.46 L379.60,167.11 L380.57,165.83 L381.53,164.61 L382.50,163.44 L383.47,162.34 L384.43,161.30 L385.40,160.32 L386.37,159.40 L387.33,158.54 L388.30,157.73 L389.27,156.98 L390.23,156.29 L391.20,155.65 L392.17,155.07 L393.13,154.54 L394.10,154.07 L395.07,153.64 L396.03,153.27 L397.00,152.94 L397.97,152.66 L398.93,152.42 L399.90,152.23 L400.87,152.09 L401.83,151.98 L402.80,151.92 L403.77,151.90 L404.73,151.92 L405.70,151.98 L406.67,152.08 L407.63,152.22 L408.60,152.40 L409.57,152.62 L410.53,152.88 L411.50,153.17 L412.47,153.51 L413.43,153.88 L414.40,154.29 L415.37,154.73 L416.33,155.22 L417.30,155.74 L418.27,156.30 L419.23,156.89 L420.20,157.52 L421.17,158.19 L422.13,158.89 L423.10,159.62 L424.07,160.38 L425.03,161.18 L426.00,162.00 L426.97,162.85 L427.93,163.73 L428.90,164.65 L429.87,165.59 L430.83,166.56 L431.80,167.56 L432.77,168.60 L433.73,169.67 L434.70,170.76 L435.67,171.88 L436.63,173.02 L437.60,174.18 L438.57,175.34 L439.53,176.52 L440.50,177.69 L441.47,178.86 L442.43,180.01 L443.40,181.15 L444.37,182.27 L445.33,183.37 L446.30,184.44 L447.27,185.48 L448.23,186.49 L449.20,187.47 L450.17,188.41 L451.13,189.33 L452.10,190.21 L453.07,191.05 L454.03,191.87 L455.00,192.66 L455.97,193.43 L456.93,194.17 L457.90,194.89 L458.87,195.58 L459.83,196.26 L460.80,196.92 L461.77,197.56 L462.73,198.18 L463.70,198.79 L464.67,199.38 L465.63,199.96 L466.60,200.51 L467.57,201.06 L468.53,201.58 L469.50,202.09 L470.47,202.58 L471.43,203.05 L472.40,203.51 L473.37,203.94 L474.33,204.36 L475.30,204.76 L476.27,205.14 L477.23,205.51 L478.20,205.86 L479.17,206.19 L480.13,206.50 L481.10,206.80 L482.07,207.09 L483.03,207.37 L484.00,207.63 L484.97,207.89 L485.93,208.13 L486.90,208.37 L487.87,208.60 L488.83,208.83 L489.80,209.05" fill="none" stroke="#000" stroke-width="2.3" stroke-linejoin="round" />
</g>
<path d="M336.10,137.50 H489.80 V291.30" fill="none" stroke="#4a4a4a" stroke-width="1.15"/>
<path d="M336.10,137.00 V291.30 H490.30" fill="none" stroke="#262626" stroke-width="1.15" stroke-linejoin="miter"/>
<line x1="336.10" y1="291.30" x2="336.10" y2="296.10" stroke="#333" stroke-width="1"/>
<text x="336.10" y="311.90" font-size="16.8" text-anchor="middle" fill="#363636"  >0</text>
<line x1="370.26" y1="291.30" x2="370.26" y2="293.80" stroke="#333" stroke-width="1"/>
<line x1="404.41" y1="291.30" x2="404.41" y2="296.10" stroke="#333" stroke-width="1"/>
<text x="404.41" y="311.90" font-size="16.8" text-anchor="middle" fill="#363636"  >1</text>
<line x1="438.57" y1="291.30" x2="438.57" y2="293.80" stroke="#333" stroke-width="1"/>
<line x1="472.72" y1="291.30" x2="472.72" y2="296.10" stroke="#333" stroke-width="1"/>
<text x="472.72" y="311.90" font-size="16.8" text-anchor="middle" fill="#363636"  >2</text>
<line x1="331.30" y1="291.30" x2="336.10" y2="291.30" stroke="#333" stroke-width="1"/>
<text x="324.50" y="295.40" font-size="16.8" text-anchor="end" fill="#363636"  >3</text>
<path d="M304.80,290.70 h9.8" stroke="#363636" stroke-width="1.0" fill="none"/>
<line x1="331.30" y1="265.67" x2="336.10" y2="265.67" stroke="#333" stroke-width="1"/>
<text x="324.50" y="269.77" font-size="16.8" text-anchor="end" fill="#363636"  >2</text>
<path d="M304.80,265.07 h9.8" stroke="#363636" stroke-width="1.0" fill="none"/>
<line x1="331.30" y1="240.03" x2="336.10" y2="240.03" stroke="#333" stroke-width="1"/>
<text x="324.50" y="244.13" font-size="16.8" text-anchor="end" fill="#363636"  >1</text>
<path d="M304.80,239.43 h9.8" stroke="#363636" stroke-width="1.0" fill="none"/>
<line x1="331.30" y1="214.40" x2="336.10" y2="214.40" stroke="#333" stroke-width="1"/>
<text x="324.50" y="218.50" font-size="16.8" text-anchor="end" fill="#363636"  >0</text>
<line x1="331.30" y1="188.77" x2="336.10" y2="188.77" stroke="#333" stroke-width="1"/>
<text x="324.50" y="192.87" font-size="16.8" text-anchor="end" fill="#363636"  >1</text>
<line x1="331.30" y1="163.13" x2="336.10" y2="163.13" stroke="#333" stroke-width="1"/>
<text x="324.50" y="167.23" font-size="16.8" text-anchor="end" fill="#363636"  >2</text>
<line x1="331.30" y1="137.50" x2="336.10" y2="137.50" stroke="#333" stroke-width="1"/>
<text x="324.50" y="141.60" font-size="16.8" text-anchor="end" fill="#363636"  >3</text>
<text x="391.80" y="329.80" font-size="19.5" text-anchor="start" fill="#363636" font-style="italic" >r</text>
<text x="399.60" y="332.80" font-size="14" text-anchor="start" fill="#363636" font-style="italic" >z</text>
<line x1="407.50" y1="333.70" x2="414.60" y2="316.40" stroke="#363636" stroke-width="1.1"/>
<text x="416.20" y="329.80" font-size="19" text-anchor="start" fill="#363636" font-style="italic" >R</text>
<line x1="344.85" y1="393.77" x2="489.80" y2="393.77" stroke="#767676" stroke-width="1.9" stroke-dasharray="3.5,5.44"/>
<clipPath id="cl1b"><rect x="336.10" y="349.80" width="154.30" height="153.90"/></clipPath>
<g clip-path="url(#cl1b)">
<path d="M336.10,393.77 L337.07,394.14 L338.03,394.50 L339.00,394.86 L339.97,395.22 L340.93,395.58 L341.90,395.94 L342.87,396.30 L343.83,396.65 L344.80,397.00 L345.77,397.35 L346.73,397.70 L347.70,398.04 L348.67,398.38 L349.63,398.72 L350.60,399.05 L351.57,399.37 L352.53,399.69 L353.50,400.01 L354.47,400.31 L355.43,400.62 L356.40,400.91 L357.37,401.20 L358.33,401.47 L359.30,401.75 L360.27,402.01 L361.23,402.27 L362.20,402.52 L363.17,402.76 L364.13,402.99 L365.10,403.22 L366.07,403.44 L367.03,403.65 L368.00,403.85 L368.97,404.04 L369.93,404.23 L370.90,404.41 L371.87,404.57 L372.83,404.73 L373.80,404.89 L374.77,405.03 L375.73,405.17 L376.70,405.30 L377.67,405.42 L378.63,405.54 L379.60,405.65 L380.57,405.75 L381.53,405.85 L382.50,405.93 L383.47,406.02 L384.43,406.09 L385.40,406.16 L386.37,406.23 L387.33,406.28 L388.30,406.33 L389.27,406.38 L390.23,406.42 L391.20,406.45 L392.17,406.48 L393.13,406.51 L394.10,406.53 L395.07,406.54 L396.03,406.56 L397.00,406.56 L397.97,406.57 L398.93,406.57 L399.90,406.57 L400.87,406.57 L401.83,406.56 L402.80,406.55 L403.77,406.54 L404.73,406.52 L405.70,406.50 L406.67,406.48 L407.63,406.46 L408.60,406.43 L409.57,406.40 L410.53,406.37 L411.50,406.34 L412.47,406.30 L413.43,406.26 L414.40,406.22 L415.37,406.18 L416.33,406.13 L417.30,406.08 L418.27,406.03 L419.23,405.98 L420.20,405.92 L421.17,405.87 L422.13,405.81 L423.10,405.75 L424.07,405.68 L425.03,405.62 L426.00,405.55 L426.97,405.48 L427.93,405.40 L428.90,405.33 L429.87,405.25 L430.83,405.16 L431.80,405.08 L432.77,404.99 L433.73,404.89 L434.70,404.80 L435.67,404.70 L436.63,404.60 L437.60,404.49 L438.57,404.39 L439.53,404.28 L440.50,404.17 L441.47,404.05 L442.43,403.94 L443.40,403.83 L444.37,403.71 L445.33,403.60 L446.30,403.49 L447.27,403.38 L448.23,403.27 L449.20,403.16 L450.17,403.05 L451.13,402.94 L452.10,402.84 L453.07,402.73 L454.03,402.63 L455.00,402.53 L455.97,402.43 L456.93,402.33 L457.90,402.23 L458.87,402.13 L459.83,402.03 L460.80,401.94 L461.77,401.84 L462.73,401.75 L463.70,401.65 L464.67,401.56 L465.63,401.47 L466.60,401.38 L467.57,401.29 L468.53,401.20 L469.50,401.10 L470.47,401.02 L471.43,400.93 L472.40,400.84 L473.37,400.75 L474.33,400.66 L475.30,400.57 L476.27,400.48 L477.23,400.40 L478.20,400.31 L479.17,400.22 L480.13,400.13 L481.10,400.05 L482.07,399.96 L483.03,399.87 L484.00,399.79 L484.97,399.70 L485.93,399.61 L486.90,399.53 L487.87,399.44 L488.83,399.35 L489.80,399.27" fill="none" stroke="#e6200f" stroke-width="2.3" stroke-linejoin="round" />
<path d="M336.10,412.57 L337.07,412.89 L338.03,413.20 L339.00,413.51 L339.97,413.82 L340.93,414.13 L341.90,414.43 L342.87,414.73 L343.83,415.03 L344.80,415.32 L345.77,415.60 L346.73,415.88 L347.70,416.15 L348.67,416.41 L349.63,416.66 L350.60,416.91 L351.57,417.14 L352.53,417.37 L353.50,417.59 L354.47,417.80 L355.43,418.00 L356.40,418.18 L357.37,418.36 L358.33,418.53 L359.30,418.69 L360.27,418.83 L361.23,418.97 L362.20,419.09 L363.17,419.21 L364.13,419.31 L365.10,419.40 L366.07,419.48 L367.03,419.55 L368.00,419.61 L368.97,419.65 L369.93,419.69 L370.90,419.71 L371.87,419.72 L372.83,419.72 L373.80,419.71 L374.77,419.69 L375.73,419.65 L376.70,419.61 L377.67,419.55 L378.63,419.48 L379.60,419.40 L380.57,419.30 L381.53,419.20 L382.50,419.08 L383.47,418.95 L384.43,418.82 L385.40,418.67 L386.37,418.51 L387.33,418.34 L388.30,418.16 L389.27,417.97 L390.23,417.78 L391.20,417.57 L392.17,417.35 L393.13,417.13 L394.10,416.90 L395.07,416.66 L396.03,416.41 L397.00,416.15 L397.97,415.89 L398.93,415.62 L399.90,415.35 L400.87,415.06 L401.83,414.78 L402.80,414.49 L403.77,414.19 L404.73,413.89 L405.70,413.58 L406.67,413.27 L407.63,412.96 L408.60,412.65 L409.57,412.33 L410.53,412.01 L411.50,411.68 L412.47,411.36 L413.43,411.03 L414.40,410.70 L415.37,410.37 L416.33,410.03 L417.30,409.70 L418.27,409.37 L419.23,409.03 L420.20,408.69 L421.17,408.36 L422.13,408.02 L423.10,407.68 L424.07,407.35 L425.03,407.01 L426.00,406.68 L426.97,406.34 L427.93,406.01 L428.90,405.68 L429.87,405.36 L430.83,405.03 L431.80,404.71 L432.77,404.39 L433.73,404.07 L434.70,403.76 L435.67,403.45 L436.63,403.14 L437.60,402.84 L438.57,402.54 L439.53,402.24 L440.50,401.94 L441.47,401.65 L442.43,401.36 L443.40,401.08 L444.37,400.79 L445.33,400.51 L446.30,400.23 L447.27,399.95 L448.23,399.68 L449.20,399.41 L450.17,399.14 L451.13,398.87 L452.10,398.61 L453.07,398.34 L454.03,398.09 L455.00,397.83 L455.97,397.58 L456.93,397.33 L457.90,397.09 L458.87,396.85 L459.83,396.61 L460.80,396.38 L461.77,396.15 L462.73,395.93 L463.70,395.71 L464.67,395.50 L465.63,395.29 L466.60,395.09 L467.57,394.89 L468.53,394.69 L469.50,394.51 L470.47,394.32 L471.43,394.15 L472.40,393.97 L473.37,393.81 L474.33,393.65 L475.30,393.49 L476.27,393.35 L477.23,393.20 L478.20,393.07 L479.17,392.93 L480.13,392.80 L481.10,392.68 L482.07,392.56 L483.03,392.44 L484.00,392.33 L484.97,392.21 L485.93,392.10 L486.90,391.99 L487.87,391.89 L488.83,391.78 L489.80,391.67" fill="none" stroke="#0a70b8" stroke-width="2.3" stroke-linejoin="round" />
<path d="M336.10,474.96 L336.35,474.99 L336.59,475.01 L336.84,475.04 L337.09,475.06 L337.33,475.09 L337.58,475.11 L337.83,475.13 L338.07,475.15 L338.32,475.17 L338.57,475.19 L338.81,475.20 L339.06,475.22 L339.30,475.23 L339.55,475.23 L339.80,475.24 L340.04,475.24 L340.29,475.24 L340.54,475.23 L340.78,475.23 L341.03,475.21 L341.28,475.20 L341.52,475.18 L341.77,475.15 L342.02,475.12 L342.26,475.09 L342.51,475.05 L342.76,475.01 L343.00,474.97 L343.25,474.92 L343.50,474.86 L343.74,474.80 L343.99,474.74 L344.24,474.67 L344.48,474.60 L344.73,474.52 L344.98,474.44 L345.22,474.35 L345.47,474.26 L345.71,474.16 L345.96,474.06 L346.21,473.95 L346.45,473.84 L346.70,473.72 L346.95,473.60 L347.19,473.47 L347.44,473.34 L347.69,473.20 L347.93,473.06 L348.18,472.91 L348.43,472.76 L348.67,472.60 L348.92,472.44 L349.17,472.28 L349.41,472.11 L349.66,471.94 L349.91,471.76 L350.15,471.58 L350.40,471.40 L350.65,471.21 L350.89,471.01 L351.14,470.82 L351.39,470.62 L351.63,470.41 L351.88,470.20 L352.12,469.99 L352.37,469.78 L352.62,469.56 L352.86,469.34 L353.11,469.11 L353.36,468.88 L353.60,468.65 L353.85,468.41 L354.10,468.17 L354.34,467.93 L354.59,467.69 L354.84,467.44 L355.08,467.19 L355.33,466.93 L355.58,466.67 L355.82,466.41 L356.07,466.15 L356.32,465.88 L356.56,465.61 L356.81,465.34 L357.06,465.06 L357.30,464.79 L357.55,464.51 L357.80,464.22 L358.04,463.94 L358.29,463.65 L358.53,463.36 L358.78,463.07 L359.03,462.77 L359.27,462.47 L359.52,462.17 L359.77,461.87 L360.01,461.56 L360.26,461.25 L360.51,460.94 L360.75,460.63 L361.00,460.32 L361.25,460.00 L361.49,459.68 L361.74,459.36 L361.99,459.04 L362.23,458.71 L362.48,458.38 L362.73,458.05 L362.97,457.72 L363.22,457.39 L363.47,457.05 L363.71,456.71 L363.96,456.37 L364.21,456.03 L364.45,455.69 L364.70,455.34 L364.94,454.99 L365.19,454.64 L365.44,454.29 L365.68,453.94 L365.93,453.58 L366.18,453.23 L366.42,452.87 L366.67,452.51 L366.92,452.15 L367.16,451.79 L367.41,451.42 L367.66,451.05 L367.90,450.69 L368.15,450.32 L368.40,449.95 L368.64,449.58 L368.89,449.20 L369.14,448.83 L369.38,448.46 L369.63,448.08 L369.88,447.70 L370.12,447.33 L370.37,446.95 L370.62,446.57 L370.86,446.19 L371.11,445.81 L371.35,445.42 L371.60,445.04 L371.85,444.66 L372.09,444.27 L372.34,443.89 L372.59,443.50 L372.83,443.12 L373.08,442.73 L373.33,442.35 L373.57,441.96 L373.82,441.57 L374.07,441.19 L374.31,440.80 L374.56,440.41 L374.81,440.02 L375.05,439.63 L375.30,439.25 L375.55,438.86 L375.79,438.47 L376.04,438.08 L376.29,437.69 L376.53,437.31 L376.78,436.92 L377.03,436.53 L377.27,436.14 L377.52,435.75 L377.76,435.37 L378.01,434.98 L378.26,434.59 L378.50,434.21 L378.75,433.82 L379.00,433.44 L379.24,433.05 L379.49,432.67 L379.74,432.28 L379.98,431.90 L380.23,431.52 L380.48,431.13 L380.72,430.75 L380.97,430.37 L381.22,429.99 L381.46,429.61 L381.71,429.23 L381.96,428.85 L382.20,428.47 L382.45,428.10 L382.70,427.72 L382.94,427.34 L383.19,426.96 L383.43,426.59 L383.68,426.21 L383.93,425.84 L384.17,425.46 L384.42,425.08 L384.67,424.71 L384.91,424.33 L385.16,423.96 L385.41,423.59 L385.65,423.21 L385.90,422.84 L386.15,422.46 L386.39,422.09 L386.64,421.72 L386.89,421.34 L387.13,420.97 L387.38,420.60 L387.63,420.22 L387.87,419.85 L388.12,419.48 L388.37,419.10 L388.61,418.73 L388.86,418.36 L389.11,417.98 L389.35,417.61 L389.60,417.24 L389.84,416.87 L390.09,416.49 L390.34,416.12 L390.58,415.75 L390.83,415.38 L391.08,415.01 L391.32,414.63 L391.57,414.26 L391.82,413.89 L392.06,413.52 L392.31,413.15 L392.56,412.78 L392.80,412.41 L393.05,412.04 L393.30,411.67 L393.54,411.30 L393.79,410.93 L394.04,410.56 L394.28,410.19 L394.53,409.82 L394.78,409.45 L395.02,409.09 L395.27,408.72 L395.52,408.35 L395.76,407.98 L396.01,407.61 L396.25,407.25 L396.50,406.88 L396.75,406.51 L396.99,406.15 L397.24,405.78 L397.49,405.42 L397.73,405.05 L397.98,404.69 L398.23,404.32 L398.47,403.96 L398.72,403.59 L398.97,403.23 L399.21,402.86 L399.46,402.50 L399.71,402.14 L399.95,401.77 L400.20,401.41 L400.45,401.05 L400.69,400.69 L400.94,400.32 L401.19,399.96 L401.43,399.60 L401.68,399.24 L401.93,398.88 L402.17,398.52 L402.42,398.16 L402.66,397.80 L402.91,397.44 L403.16,397.08 L403.40,396.72 L403.65,396.36 L403.90,396.00 L404.14,395.65 L404.39,395.29 L404.64,394.93 L404.88,394.57 L405.13,394.22 L405.38,393.86 L405.62,393.50 L405.87,393.15 L406.12,392.79 L406.36,392.44 L406.61,392.08 L406.86,391.73 L407.10,391.38 L407.35,391.02 L407.60,390.67 L407.84,390.32 L408.09,389.97 L408.34,389.62 L408.58,389.27 L408.83,388.92 L409.07,388.58 L409.32,388.23 L409.57,387.89 L409.81,387.54 L410.06,387.20 L410.31,386.86 L410.55,386.52 L410.80,386.18 L411.05,385.85 L411.29,385.51 L411.54,385.18 L411.79,384.84 L412.03,384.51 L412.28,384.18 L412.53,383.86 L412.77,383.53 L413.02,383.21 L413.27,382.88 L413.51,382.56 L413.76,382.24 L414.01,381.93 L414.25,381.61 L414.50,381.30 L414.75,380.99 L414.99,380.68 L415.24,380.37 L415.48,380.07 L415.73,379.76 L415.98,379.46 L416.22,379.16 L416.47,378.87 L416.72,378.57 L416.96,378.28 L417.21,377.99 L417.46,377.70 L417.70,377.42 L417.95,377.13 L418.20,376.85 L418.44,376.57 L418.69,376.29 L418.94,376.01 L419.18,375.74 L419.43,375.46 L419.68,375.19 L419.92,374.92 L420.17,374.65 L420.42,374.38 L420.66,374.12 L420.91,373.86 L421.16,373.59 L421.40,373.33 L421.65,373.07 L421.89,372.82 L422.14,372.56 L422.39,372.30 L422.63,372.05 L422.88,371.80 L423.13,371.54 L423.37,371.29 L423.62,371.04 L423.87,370.79 L424.11,370.54 L424.36,370.30 L424.61,370.05 L424.85,369.80 L425.10,369.55 L425.35,369.31 L425.59,369.06 L425.84,368.82 L426.09,368.57 L426.33,368.32 L426.58,368.08 L426.83,367.83 L427.07,367.58 L427.32,367.33 L427.56,367.08 L427.81,366.83 L428.06,366.58 L428.30,366.32 L428.55,366.06 L428.80,365.80 L429.04,365.53 L429.29,365.26 L429.54,364.99 L429.78,364.70 L430.03,364.41 L430.28,364.10 L430.52,363.79 L430.77,363.46 L431.02,363.11 L431.26,362.74 L431.51,362.35 L431.76,361.92 L432.00,361.46 L432.25,360.96 L432.50,360.40 L432.74,359.79 L432.99,359.09 L433.24,358.31 L433.48,357.43 L433.73,356.41 L433.97,355.25 L434.22,353.90 L434.47,352.33 L434.47,352.33 L434.75,352.87 L435.02,353.37 L435.30,353.84 L435.58,354.28 L435.86,354.70 L436.14,355.10 L436.41,355.48 L436.69,355.85 L436.97,356.20 L437.25,356.53 L437.53,356.86 L437.80,357.18 L438.08,357.49 L438.36,357.79 L438.64,358.09 L438.92,358.38 L439.19,358.66 L439.47,358.94 L439.75,359.22 L440.03,359.49 L440.31,359.76 L440.59,360.02 L440.86,360.29 L441.14,360.55 L441.42,360.81 L441.70,361.06 L441.98,361.32 L442.25,361.57 L442.53,361.82 L442.81,362.07 L443.09,362.32 L443.37,362.56 L443.64,362.81 L443.92,363.05 L444.20,363.30 L444.48,363.54 L444.76,363.78 L445.03,364.02 L445.31,364.25 L445.59,364.49 L445.87,364.73 L446.15,364.96 L446.42,365.19 L446.70,365.42 L446.98,365.65 L447.26,365.88 L447.54,366.11 L447.81,366.34 L448.09,366.56 L448.37,366.79 L448.65,367.01 L448.93,367.23 L449.20,367.45 L449.48,367.67 L449.76,367.89 L450.04,368.11 L450.32,368.32 L450.59,368.54 L450.87,368.75 L451.15,368.96 L451.43,369.17 L451.71,369.37 L451.99,369.58 L452.26,369.79 L452.54,369.99 L452.82,370.19 L453.10,370.39 L453.38,370.59 L453.65,370.78 L453.93,370.98 L454.21,371.17 L454.49,371.36 L454.77,371.55 L455.04,371.74 L455.32,371.93 L455.60,372.11 L455.88,372.30 L456.16,372.48 L456.43,372.66 L456.71,372.84 L456.99,373.02 L457.27,373.19 L457.55,373.37 L457.82,373.54 L458.10,373.72 L458.38,373.89 L458.66,374.06 L458.94,374.23 L459.21,374.40 L459.49,374.56 L459.77,374.73 L460.05,374.89 L460.33,375.05 L460.60,375.22 L460.88,375.38 L461.16,375.53 L461.44,375.69 L461.72,375.85 L461.99,376.00 L462.27,376.16 L462.55,376.31 L462.83,376.46 L463.11,376.61 L463.39,376.76 L463.66,376.90 L463.94,377.05 L464.22,377.19 L464.50,377.33 L464.78,377.47 L465.05,377.61 L465.33,377.75 L465.61,377.89 L465.89,378.02 L466.17,378.16 L466.44,378.29 L466.72,378.42 L467.00,378.55 L467.28,378.68 L467.56,378.80 L467.83,378.93 L468.11,379.05 L468.39,379.18 L468.67,379.30 L468.95,379.42 L469.22,379.54 L469.50,379.65 L469.78,379.77 L470.06,379.88 L470.34,380.00 L470.61,380.11 L470.89,380.22 L471.17,380.33 L471.45,380.44 L471.73,380.54 L472.00,380.65 L472.28,380.75 L472.56,380.86 L472.84,380.96 L473.12,381.06 L473.40,381.16 L473.67,381.26 L473.95,381.35 L474.23,381.45 L474.51,381.54 L474.79,381.64 L475.06,381.73 L475.34,381.82 L475.62,381.91 L475.90,382.00 L476.18,382.08 L476.45,382.17 L476.73,382.26 L477.01,382.34 L477.29,382.42 L477.57,382.50 L477.84,382.58 L478.12,382.66 L478.40,382.74 L478.68,382.82 L478.96,382.90 L479.23,382.97 L479.51,383.05 L479.79,383.12 L480.07,383.19 L480.35,383.27 L480.62,383.34 L480.90,383.41 L481.18,383.48 L481.46,383.54 L481.74,383.61 L482.01,383.68 L482.29,383.75 L482.57,383.81 L482.85,383.87 L483.13,383.94 L483.40,384.00 L483.68,384.06 L483.96,384.13 L484.24,384.19 L484.52,384.25 L484.80,384.31 L485.07,384.37 L485.35,384.43 L485.63,384.48 L485.91,384.54 L486.19,384.60 L486.46,384.66 L486.74,384.71 L487.02,384.77 L487.30,384.83 L487.58,384.88 L487.85,384.94 L488.13,384.99 L488.41,385.05 L488.69,385.10 L488.97,385.16 L489.24,385.21 L489.52,385.27 L489.80,385.32" fill="none" stroke="#000" stroke-width="2.3" stroke-linejoin="round" stroke-miterlimit="10"/>
</g>
<path d="M336.10,349.80 H489.80 V503.70" fill="none" stroke="#4a4a4a" stroke-width="1.15"/>
<path d="M336.10,349.30 V503.70 H490.30" fill="none" stroke="#262626" stroke-width="1.15" stroke-linejoin="miter"/>
<line x1="336.10" y1="503.70" x2="336.10" y2="508.50" stroke="#333" stroke-width="1"/>
<text x="336.10" y="524.30" font-size="16.8" text-anchor="middle" fill="#363636"  >0</text>
<line x1="370.26" y1="503.70" x2="370.26" y2="506.20" stroke="#333" stroke-width="1"/>
<line x1="404.41" y1="503.70" x2="404.41" y2="508.50" stroke="#333" stroke-width="1"/>
<text x="404.41" y="524.30" font-size="16.8" text-anchor="middle" fill="#363636"  >1</text>
<line x1="438.57" y1="503.70" x2="438.57" y2="506.20" stroke="#333" stroke-width="1"/>
<line x1="472.72" y1="503.70" x2="472.72" y2="508.50" stroke="#333" stroke-width="1"/>
<text x="472.72" y="524.30" font-size="16.8" text-anchor="middle" fill="#363636"  >2</text>
<line x1="333.60" y1="503.70" x2="336.10" y2="503.70" stroke="#333" stroke-width="1"/>
<line x1="331.30" y1="492.71" x2="336.10" y2="492.71" stroke="#333" stroke-width="1"/>
<text x="324.50" y="496.81" font-size="16.8" text-anchor="end" fill="#363636"  >9</text>
<path d="M304.80,492.11 h9.8" stroke="#363636" stroke-width="1.0" fill="none"/>
<line x1="333.60" y1="481.71" x2="336.10" y2="481.71" stroke="#333" stroke-width="1"/>
<line x1="333.60" y1="470.72" x2="336.10" y2="470.72" stroke="#333" stroke-width="1"/>
<line x1="331.30" y1="459.73" x2="336.10" y2="459.73" stroke="#333" stroke-width="1"/>
<text x="324.50" y="463.83" font-size="16.8" text-anchor="end" fill="#363636"  >6</text>
<path d="M304.80,459.13 h9.8" stroke="#363636" stroke-width="1.0" fill="none"/>
<line x1="333.60" y1="448.74" x2="336.10" y2="448.74" stroke="#333" stroke-width="1"/>
<line x1="333.60" y1="437.74" x2="336.10" y2="437.74" stroke="#333" stroke-width="1"/>
<line x1="331.30" y1="426.75" x2="336.10" y2="426.75" stroke="#333" stroke-width="1"/>
<text x="324.50" y="430.85" font-size="16.8" text-anchor="end" fill="#363636"  >3</text>
<path d="M304.80,426.15 h9.8" stroke="#363636" stroke-width="1.0" fill="none"/>
<line x1="333.60" y1="415.76" x2="336.10" y2="415.76" stroke="#333" stroke-width="1"/>
<line x1="333.60" y1="404.76" x2="336.10" y2="404.76" stroke="#333" stroke-width="1"/>
<line x1="331.30" y1="393.77" x2="336.10" y2="393.77" stroke="#333" stroke-width="1"/>
<text x="324.50" y="397.87" font-size="16.8" text-anchor="end" fill="#363636"  >0</text>
<line x1="333.60" y1="382.78" x2="336.10" y2="382.78" stroke="#333" stroke-width="1"/>
<line x1="333.60" y1="371.79" x2="336.10" y2="371.79" stroke="#333" stroke-width="1"/>
<line x1="331.30" y1="360.79" x2="336.10" y2="360.79" stroke="#333" stroke-width="1"/>
<text x="324.50" y="364.89" font-size="16.8" text-anchor="end" fill="#363636"  >3</text>
<line x1="333.60" y1="349.80" x2="336.10" y2="349.80" stroke="#333" stroke-width="1"/>
<text x="391.80" y="541.50" font-size="19.5" text-anchor="start" fill="#363636" font-style="italic" >r</text>
<text x="399.60" y="544.50" font-size="14" text-anchor="start" fill="#363636" font-style="italic" >z</text>
<line x1="407.50" y1="545.40" x2="414.60" y2="528.10" stroke="#363636" stroke-width="1.1"/>
<text x="416.20" y="541.50" font-size="19" text-anchor="start" fill="#363636" font-style="italic" >R</text>
<line x1="591.20" y1="214.40" x2="744.90" y2="214.40" stroke="#000" stroke-width="1.15" stroke-dasharray="3.4,5.5" stroke-dashoffset="0.2"/>
<clipPath id="cl2t"><rect x="591.20" y="137.50" width="154.30" height="153.80"/></clipPath>
<g clip-path="url(#cl2t)">
<path d="M591.20,273.88 L592.17,273.68 L593.13,273.49 L594.10,273.29 L595.07,273.08 L596.03,272.87 L597.00,272.65 L597.97,272.43 L598.93,272.19 L599.90,271.93 L600.87,271.67 L601.83,271.40 L602.80,271.12 L603.77,270.83 L604.73,270.53 L605.70,270.22 L606.67,269.90 L607.63,269.58 L608.60,269.26 L609.57,268.92 L610.53,268.58 L611.50,268.23 L612.47,267.88 L613.43,267.52 L614.40,267.15 L615.37,266.77 L616.33,266.39 L617.30,266.00 L618.27,265.61 L619.23,265.21 L620.20,264.81 L621.17,264.39 L622.13,263.98 L623.10,263.55 L624.07,263.12 L625.03,262.69 L626.00,262.25 L626.97,261.80 L627.93,261.34 L628.90,260.88 L629.87,260.42 L630.83,259.94 L631.80,259.47 L632.77,258.99 L633.73,258.50 L634.70,258.01 L635.67,257.52 L636.63,257.03 L637.60,256.54 L638.57,256.04 L639.53,255.54 L640.50,255.04 L641.47,254.55 L642.43,254.05 L643.40,253.55 L644.37,253.05 L645.33,252.55 L646.30,252.05 L647.27,251.56 L648.23,251.07 L649.20,250.59 L650.17,250.11 L651.13,249.64 L652.10,249.17 L653.07,248.72 L654.03,248.27 L655.00,247.82 L655.97,247.39 L656.93,246.97 L657.90,246.55 L658.87,246.14 L659.83,245.75 L660.80,245.36 L661.77,244.97 L662.73,244.60 L663.70,244.22 L664.67,243.86 L665.63,243.50 L666.60,243.14 L667.57,242.78 L668.53,242.43 L669.50,242.08 L670.47,241.74 L671.43,241.39 L672.40,241.05 L673.37,240.71 L674.33,240.37 L675.30,240.03 L676.27,239.69 L677.23,239.36 L678.20,239.02 L679.17,238.69 L680.13,238.35 L681.10,238.01 L682.07,237.68 L683.03,237.34 L684.00,237.01 L684.97,236.67 L685.93,236.34 L686.90,236.01 L687.87,235.68 L688.83,235.35 L689.80,235.02 L690.77,234.69 L691.73,234.37 L692.70,234.05 L693.67,233.73 L694.63,233.41 L695.60,233.09 L696.57,232.78 L697.53,232.47 L698.50,232.16 L699.47,231.86 L700.43,231.56 L701.40,231.26 L702.37,230.97 L703.33,230.68 L704.30,230.40 L705.27,230.12 L706.23,229.84 L707.20,229.57 L708.17,229.31 L709.13,229.05 L710.10,228.80 L711.07,228.55 L712.03,228.31 L713.00,228.07 L713.97,227.84 L714.93,227.61 L715.90,227.39 L716.87,227.17 L717.83,226.96 L718.80,226.76 L719.77,226.56 L720.73,226.36 L721.70,226.17 L722.67,225.99 L723.63,225.81 L724.60,225.64 L725.57,225.47 L726.53,225.30 L727.50,225.14 L728.47,224.98 L729.43,224.83 L730.40,224.68 L731.37,224.53 L732.33,224.39 L733.30,224.25 L734.27,224.11 L735.23,223.97 L736.20,223.84 L737.17,223.71 L738.13,223.58 L739.10,223.45 L740.07,223.32 L741.03,223.20 L742.00,223.07 L742.97,222.95 L743.93,222.82 L744.90,222.70" fill="none" stroke="#000" stroke-width="2.3" stroke-linejoin="round" />
<path d="M591.20,273.88 L592.17,272.65 L593.13,271.43 L594.10,270.20 L595.07,268.97 L596.03,267.73 L597.00,266.49 L597.97,265.24 L598.93,263.98 L599.90,262.72 L600.87,261.45 L601.83,260.17 L602.80,258.89 L603.77,257.60 L604.73,256.32 L605.70,255.03 L606.67,253.74 L607.63,252.45 L608.60,251.17 L609.57,249.89 L610.53,248.61 L611.50,247.34 L612.47,246.08 L613.43,244.83 L614.40,243.59 L615.37,242.36 L616.33,241.14 L617.30,239.93 L618.27,238.74 L619.23,237.56 L620.20,236.39 L621.17,235.23 L622.13,234.09 L623.10,232.96 L624.07,231.84 L625.03,230.74 L626.00,229.64 L626.97,228.55 L627.93,227.46 L628.90,226.39 L629.87,225.32 L630.83,224.25 L631.80,223.19 L632.77,222.13 L633.73,221.07 L634.70,220.02 L635.67,218.96 L636.63,217.91 L637.60,216.85 L638.57,215.81 L639.53,214.77 L640.50,213.73 L641.47,212.71 L642.43,211.70 L643.40,210.71 L644.37,209.73 L645.33,208.78 L646.30,207.85 L647.27,206.95 L648.23,206.08 L649.20,205.23 L650.17,204.43 L651.13,203.66 L652.10,202.92 L653.07,202.22 L654.03,201.55 L655.00,200.91 L655.97,200.31 L656.93,199.75 L657.90,199.22 L658.87,198.72 L659.83,198.25 L660.80,197.81 L661.77,197.40 L662.73,197.01 L663.70,196.65 L664.67,196.31 L665.63,195.99 L666.60,195.69 L667.57,195.42 L668.53,195.15 L669.50,194.91 L670.47,194.67 L671.43,194.45 L672.40,194.23 L673.37,194.03 L674.33,193.83 L675.30,193.64 L676.27,193.46 L677.23,193.30 L678.20,193.14 L679.17,192.99 L680.13,192.85 L681.10,192.73 L682.07,192.61 L683.03,192.51 L684.00,192.42 L684.97,192.34 L685.93,192.27 L686.90,192.22 L687.87,192.17 L688.83,192.13 L689.80,192.11 L690.77,192.09 L691.73,192.09 L692.70,192.09 L693.67,192.11 L694.63,192.13 L695.60,192.16 L696.57,192.21 L697.53,192.26 L698.50,192.31 L699.47,192.38 L700.43,192.45 L701.40,192.53 L702.37,192.62 L703.33,192.71 L704.30,192.81 L705.27,192.91 L706.23,193.02 L707.20,193.14 L708.17,193.26 L709.13,193.38 L710.10,193.51 L711.07,193.64 L712.03,193.77 L713.00,193.91 L713.97,194.05 L714.93,194.19 L715.90,194.33 L716.87,194.48 L717.83,194.63 L718.80,194.78 L719.77,194.92 L720.73,195.07 L721.70,195.22 L722.67,195.37 L723.63,195.52 L724.60,195.67 L725.57,195.82 L726.53,195.96 L727.50,196.11 L728.47,196.25 L729.43,196.40 L730.40,196.54 L731.37,196.69 L732.33,196.83 L733.30,196.97 L734.27,197.12 L735.23,197.26 L736.20,197.40 L737.17,197.54 L738.13,197.68 L739.10,197.82 L740.07,197.95 L741.03,198.09 L742.00,198.22 L742.97,198.35 L743.93,198.48 L744.90,198.62" fill="none" stroke="#0a70b8" stroke-width="2.3" stroke-linejoin="round" />
<path d="M591.20,273.87 L592.17,270.66 L593.13,267.45 L594.10,264.24 L595.07,261.03 L596.03,257.82 L597.00,254.61 L597.97,251.39 L598.93,248.18 L599.90,244.96 L600.87,241.75 L601.83,238.53 L602.80,235.31 L603.77,232.10 L604.73,228.88 L605.70,225.66 L606.67,222.44 L607.63,219.23 L608.60,216.04 L609.57,212.87 L610.53,209.75 L611.50,206.68 L612.47,203.67 L613.43,200.74 L614.40,197.89 L615.37,195.12 L616.33,192.45 L617.30,189.87 L618.27,187.40 L619.23,185.03 L620.20,182.75 L621.17,180.58 L622.13,178.50 L623.10,176.53 L624.07,174.64 L625.03,172.85 L626.00,171.14 L626.97,169.51 L627.93,167.97 L628.90,166.50 L629.87,165.10 L630.83,163.78 L631.80,162.51 L632.77,161.32 L633.73,160.18 L634.70,159.10 L635.67,158.08 L636.63,157.12 L637.60,156.21 L638.57,155.36 L639.53,154.56 L640.50,153.82 L641.47,153.13 L642.43,152.49 L643.40,151.90 L644.37,151.36 L645.33,150.87 L646.30,150.43 L647.27,150.03 L648.23,149.68 L649.20,149.37 L650.17,149.10 L651.13,148.87 L652.10,148.67 L653.07,148.52 L654.03,148.40 L655.00,148.31 L655.97,148.26 L656.93,148.24 L657.90,148.25 L658.87,148.29 L659.83,148.36 L660.80,148.45 L661.77,148.58 L662.73,148.73 L663.70,148.90 L664.67,149.10 L665.63,149.31 L666.60,149.56 L667.57,149.82 L668.53,150.10 L669.50,150.41 L670.47,150.73 L671.43,151.07 L672.40,151.43 L673.37,151.81 L674.33,152.20 L675.30,152.61 L676.27,153.04 L677.23,153.48 L678.20,153.93 L679.17,154.40 L680.13,154.87 L681.10,155.36 L682.07,155.86 L683.03,156.36 L684.00,156.88 L684.97,157.40 L685.93,157.93 L686.90,158.46 L687.87,159.00 L688.83,159.54 L689.80,160.09 L690.77,160.64 L691.73,161.19 L692.70,161.74 L693.67,162.30 L694.63,162.85 L695.60,163.41 L696.57,163.97 L697.53,164.52 L698.50,165.07 L699.47,165.62 L700.43,166.17 L701.40,166.71 L702.37,167.25 L703.33,167.79 L704.30,168.31 L705.27,168.83 L706.23,169.35 L707.20,169.86 L708.17,170.36 L709.13,170.86 L710.10,171.35 L711.07,171.83 L712.03,172.31 L713.00,172.78 L713.97,173.24 L714.93,173.70 L715.90,174.15 L716.87,174.59 L717.83,175.03 L718.80,175.45 L719.77,175.87 L720.73,176.29 L721.70,176.69 L722.67,177.09 L723.63,177.49 L724.60,177.87 L725.57,178.25 L726.53,178.62 L727.50,178.99 L728.47,179.35 L729.43,179.70 L730.40,180.05 L731.37,180.39 L732.33,180.72 L733.30,181.05 L734.27,181.37 L735.23,181.69 L736.20,182.00 L737.17,182.31 L738.13,182.61 L739.10,182.91 L740.07,183.21 L741.03,183.51 L742.00,183.80 L742.97,184.09 L743.93,184.39 L744.90,184.68" fill="none" stroke="#e6200f" stroke-width="2.3" stroke-linejoin="round" />
</g>
<path d="M591.20,137.50 H744.90 V291.30" fill="none" stroke="#4a4a4a" stroke-width="1.15"/>
<path d="M591.20,137.00 V291.30 H745.40" fill="none" stroke="#262626" stroke-width="1.15" stroke-linejoin="miter"/>
<line x1="591.20" y1="291.30" x2="591.20" y2="296.10" stroke="#333" stroke-width="1"/>
<text x="591.20" y="311.90" font-size="16.8" text-anchor="middle" fill="#363636"  >0</text>
<line x1="625.36" y1="291.30" x2="625.36" y2="293.80" stroke="#333" stroke-width="1"/>
<line x1="659.51" y1="291.30" x2="659.51" y2="296.10" stroke="#333" stroke-width="1"/>
<text x="659.51" y="311.90" font-size="16.8" text-anchor="middle" fill="#363636"  >1</text>
<line x1="693.67" y1="291.30" x2="693.67" y2="293.80" stroke="#333" stroke-width="1"/>
<line x1="727.82" y1="291.30" x2="727.82" y2="296.10" stroke="#333" stroke-width="1"/>
<text x="727.82" y="311.90" font-size="16.8" text-anchor="middle" fill="#363636"  >2</text>
<line x1="586.40" y1="291.30" x2="591.20" y2="291.30" stroke="#333" stroke-width="1"/>
<text x="579.60" y="295.40" font-size="16.8" text-anchor="end" fill="#363636"  >3</text>
<path d="M559.90,290.70 h9.8" stroke="#363636" stroke-width="1.0" fill="none"/>
<line x1="586.40" y1="265.67" x2="591.20" y2="265.67" stroke="#333" stroke-width="1"/>
<text x="579.60" y="269.77" font-size="16.8" text-anchor="end" fill="#363636"  >2</text>
<path d="M559.90,265.07 h9.8" stroke="#363636" stroke-width="1.0" fill="none"/>
<line x1="586.40" y1="240.03" x2="591.20" y2="240.03" stroke="#333" stroke-width="1"/>
<text x="579.60" y="244.13" font-size="16.8" text-anchor="end" fill="#363636"  >1</text>
<path d="M559.90,239.43 h9.8" stroke="#363636" stroke-width="1.0" fill="none"/>
<line x1="586.40" y1="214.40" x2="591.20" y2="214.40" stroke="#333" stroke-width="1"/>
<text x="579.60" y="218.50" font-size="16.8" text-anchor="end" fill="#363636"  >0</text>
<line x1="586.40" y1="188.77" x2="591.20" y2="188.77" stroke="#333" stroke-width="1"/>
<text x="579.60" y="192.87" font-size="16.8" text-anchor="end" fill="#363636"  >1</text>
<line x1="586.40" y1="163.13" x2="591.20" y2="163.13" stroke="#333" stroke-width="1"/>
<text x="579.60" y="167.23" font-size="16.8" text-anchor="end" fill="#363636"  >2</text>
<line x1="586.40" y1="137.50" x2="591.20" y2="137.50" stroke="#333" stroke-width="1"/>
<text x="579.60" y="141.60" font-size="16.8" text-anchor="end" fill="#363636"  >3</text>
<text x="646.90" y="329.80" font-size="19.5" text-anchor="start" fill="#363636" font-style="italic" >r</text>
<text x="654.70" y="332.80" font-size="14" text-anchor="start" fill="#363636" font-style="italic" >z</text>
<line x1="662.60" y1="333.70" x2="669.70" y2="316.40" stroke="#363636" stroke-width="1.1"/>
<text x="671.30" y="329.80" font-size="19" text-anchor="start" fill="#363636" font-style="italic" >R</text>
<line x1="599.95" y1="393.77" x2="744.90" y2="393.77" stroke="#767676" stroke-width="1.9" stroke-dasharray="3.5,5.44"/>
<clipPath id="cl2b"><rect x="591.20" y="349.80" width="154.30" height="153.90"/></clipPath>
<g clip-path="url(#cl2b)">
<path d="M591.20,397.19 L592.17,397.57 L593.13,397.94 L594.10,398.32 L595.07,398.69 L596.03,399.06 L597.00,399.43 L597.97,399.79 L598.93,400.14 L599.90,400.48 L600.87,400.82 L601.83,401.15 L602.80,401.47 L603.77,401.79 L604.73,402.09 L605.70,402.39 L606.67,402.69 L607.63,402.97 L608.60,403.25 L609.57,403.52 L610.53,403.77 L611.50,404.03 L612.47,404.27 L613.43,404.50 L614.40,404.72 L615.37,404.94 L616.33,405.14 L617.30,405.34 L618.27,405.53 L619.23,405.70 L620.20,405.88 L621.17,406.04 L622.13,406.20 L623.10,406.34 L624.07,406.48 L625.03,406.62 L626.00,406.74 L626.97,406.86 L627.93,406.97 L628.90,407.07 L629.87,407.16 L630.83,407.25 L631.80,407.33 L632.77,407.41 L633.73,407.47 L634.70,407.54 L635.67,407.60 L636.63,407.65 L637.60,407.69 L638.57,407.74 L639.53,407.77 L640.50,407.80 L641.47,407.83 L642.43,407.85 L643.40,407.86 L644.37,407.87 L645.33,407.88 L646.30,407.88 L647.27,407.87 L648.23,407.86 L649.20,407.84 L650.17,407.82 L651.13,407.79 L652.10,407.76 L653.07,407.72 L654.03,407.68 L655.00,407.63 L655.97,407.58 L656.93,407.52 L657.90,407.46 L658.87,407.39 L659.83,407.31 L660.80,407.23 L661.77,407.15 L662.73,407.06 L663.70,406.96 L664.67,406.86 L665.63,406.75 L666.60,406.64 L667.57,406.52 L668.53,406.40 L669.50,406.27 L670.47,406.14 L671.43,406.01 L672.40,405.87 L673.37,405.73 L674.33,405.59 L675.30,405.44 L676.27,405.30 L677.23,405.15 L678.20,405.00 L679.17,404.84 L680.13,404.69 L681.10,404.54 L682.07,404.39 L683.03,404.23 L684.00,404.08 L684.97,403.93 L685.93,403.78 L686.90,403.63 L687.87,403.48 L688.83,403.33 L689.80,403.19 L690.77,403.04 L691.73,402.90 L692.70,402.76 L693.67,402.62 L694.63,402.49 L695.60,402.35 L696.57,402.22 L697.53,402.09 L698.50,401.96 L699.47,401.83 L700.43,401.70 L701.40,401.57 L702.37,401.45 L703.33,401.33 L704.30,401.21 L705.27,401.09 L706.23,400.97 L707.20,400.86 L708.17,400.74 L709.13,400.63 L710.10,400.52 L711.07,400.42 L712.03,400.31 L713.00,400.21 L713.97,400.11 L714.93,400.01 L715.90,399.91 L716.87,399.81 L717.83,399.72 L718.80,399.63 L719.77,399.54 L720.73,399.45 L721.70,399.36 L722.67,399.28 L723.63,399.19 L724.60,399.11 L725.57,399.03 L726.53,398.95 L727.50,398.87 L728.47,398.79 L729.43,398.71 L730.40,398.64 L731.37,398.56 L732.33,398.49 L733.30,398.41 L734.27,398.34 L735.23,398.27 L736.20,398.19 L737.17,398.12 L738.13,398.06 L739.10,397.99 L740.07,397.92 L741.03,397.86 L742.00,397.79 L742.97,397.73 L743.93,397.67 L744.90,397.61" fill="none" stroke="#000" stroke-width="2.3" stroke-linejoin="round" />
<path d="M591.20,429.73 L592.17,429.97 L593.13,430.20 L594.10,430.42 L595.07,430.64 L596.03,430.86 L597.00,431.06 L597.97,431.25 L598.93,431.42 L599.90,431.58 L600.87,431.72 L601.83,431.84 L602.80,431.95 L603.77,432.03 L604.73,432.09 L605.70,432.14 L606.67,432.15 L607.63,432.15 L608.60,432.12 L609.57,432.07 L610.53,432.00 L611.50,431.90 L612.47,431.78 L613.43,431.64 L614.40,431.48 L615.37,431.29 L616.33,431.07 L617.30,430.84 L618.27,430.59 L619.23,430.31 L620.20,430.02 L621.17,429.70 L622.13,429.36 L623.10,429.01 L624.07,428.64 L625.03,428.25 L626.00,427.85 L626.97,427.43 L627.93,427.00 L628.90,426.55 L629.87,426.09 L630.83,425.62 L631.80,425.13 L632.77,424.64 L633.73,424.13 L634.70,423.60 L635.67,423.07 L636.63,422.53 L637.60,421.97 L638.57,421.41 L639.53,420.84 L640.50,420.26 L641.47,419.68 L642.43,419.09 L643.40,418.50 L644.37,417.90 L645.33,417.30 L646.30,416.70 L647.27,416.09 L648.23,415.48 L649.20,414.87 L650.17,414.26 L651.13,413.65 L652.10,413.04 L653.07,412.43 L654.03,411.83 L655.00,411.22 L655.97,410.62 L656.93,410.01 L657.90,409.42 L658.87,408.82 L659.83,408.23 L660.80,407.64 L661.77,407.06 L662.73,406.49 L663.70,405.91 L664.67,405.35 L665.63,404.79 L666.60,404.23 L667.57,403.69 L668.53,403.15 L669.50,402.61 L670.47,402.09 L671.43,401.57 L672.40,401.06 L673.37,400.56 L674.33,400.06 L675.30,399.58 L676.27,399.11 L677.23,398.65 L678.20,398.21 L679.17,397.78 L680.13,397.36 L681.10,396.95 L682.07,396.56 L683.03,396.19 L684.00,395.83 L684.97,395.48 L685.93,395.14 L686.90,394.81 L687.87,394.50 L688.83,394.20 L689.80,393.91 L690.77,393.63 L691.73,393.36 L692.70,393.10 L693.67,392.85 L694.63,392.61 L695.60,392.38 L696.57,392.16 L697.53,391.95 L698.50,391.75 L699.47,391.56 L700.43,391.37 L701.40,391.20 L702.37,391.03 L703.33,390.87 L704.30,390.73 L705.27,390.59 L706.23,390.45 L707.20,390.33 L708.17,390.22 L709.13,390.11 L710.10,390.01 L711.07,389.92 L712.03,389.83 L713.00,389.75 L713.97,389.68 L714.93,389.61 L715.90,389.54 L716.87,389.48 L717.83,389.43 L718.80,389.38 L719.77,389.33 L720.73,389.29 L721.70,389.24 L722.67,389.20 L723.63,389.17 L724.60,389.13 L725.57,389.10 L726.53,389.07 L727.50,389.05 L728.47,389.02 L729.43,389.00 L730.40,388.99 L731.37,388.97 L732.33,388.96 L733.30,388.95 L734.27,388.94 L735.23,388.93 L736.20,388.93 L737.17,388.92 L738.13,388.92 L739.10,388.92 L740.07,388.92 L741.03,388.92 L742.00,388.92 L742.97,388.92 L743.93,388.93 L744.90,388.93" fill="none" stroke="#0a70b8" stroke-width="2.3" stroke-linejoin="round" />
<path d="M591.20,492.85 L592.17,492.74 L593.13,492.60 L594.10,492.43 L595.07,492.20 L596.03,491.90 L597.00,491.51 L597.97,491.02 L598.93,490.44 L599.90,489.75 L600.87,488.96 L601.83,488.07 L602.80,487.07 L603.77,485.98 L604.73,484.79 L605.70,483.51 L606.67,482.15 L607.63,480.70 L608.60,479.17 L609.57,477.57 L610.53,475.91 L611.50,474.18 L612.47,472.40 L613.43,470.58 L614.40,468.70 L615.37,466.80 L616.33,464.86 L617.30,462.89 L618.27,460.90 L619.23,458.91 L620.20,456.90 L621.17,454.88 L622.13,452.86 L623.10,450.85 L624.07,448.84 L625.03,446.84 L626.00,444.85 L626.97,442.86 L627.93,440.90 L628.90,438.94 L629.87,437.00 L630.83,435.07 L631.80,433.16 L632.77,431.27 L633.73,429.39 L634.70,427.54 L635.67,425.71 L636.63,423.91 L637.60,422.13 L638.57,420.39 L639.53,418.69 L640.50,417.02 L641.47,415.40 L642.43,413.82 L643.40,412.28 L644.37,410.78 L645.33,409.33 L646.30,407.92 L647.27,406.56 L648.23,405.24 L649.20,403.96 L650.17,402.73 L651.13,401.54 L652.10,400.39 L653.07,399.28 L654.03,398.21 L655.00,397.18 L655.97,396.18 L656.93,395.22 L657.90,394.29 L658.87,393.39 L659.83,392.52 L660.80,391.68 L661.77,390.86 L662.73,390.06 L663.70,389.29 L664.67,388.54 L665.63,387.81 L666.60,387.10 L667.57,386.42 L668.53,385.75 L669.50,385.11 L670.47,384.49 L671.43,383.89 L672.40,383.32 L673.37,382.79 L674.33,382.28 L675.30,381.80 L676.27,381.35 L677.23,380.93 L678.20,380.54 L679.17,380.18 L680.13,379.85 L681.10,379.55 L682.07,379.27 L683.03,379.03 L684.00,378.80 L684.97,378.60 L685.93,378.42 L686.90,378.27 L687.87,378.13 L688.83,378.01 L689.80,377.90 L690.77,377.81 L691.73,377.74 L692.70,377.68 L693.67,377.63 L694.63,377.59 L695.60,377.56 L696.57,377.55 L697.53,377.54 L698.50,377.54 L699.47,377.55 L700.43,377.57 L701.40,377.59 L702.37,377.62 L703.33,377.66 L704.30,377.70 L705.27,377.75 L706.23,377.80 L707.20,377.86 L708.17,377.93 L709.13,378.00 L710.10,378.07 L711.07,378.15 L712.03,378.23 L713.00,378.32 L713.97,378.41 L714.93,378.50 L715.90,378.60 L716.87,378.70 L717.83,378.80 L718.80,378.91 L719.77,379.02 L720.73,379.13 L721.70,379.24 L722.67,379.36 L723.63,379.48 L724.60,379.60 L725.57,379.72 L726.53,379.84 L727.50,379.97 L728.47,380.09 L729.43,380.22 L730.40,380.35 L731.37,380.47 L732.33,380.60 L733.30,380.73 L734.27,380.86 L735.23,380.99 L736.20,381.12 L737.17,381.26 L738.13,381.39 L739.10,381.52 L740.07,381.66 L741.03,381.79 L742.00,381.93 L742.97,382.06 L743.93,382.20 L744.90,382.33" fill="none" stroke="#e6200f" stroke-width="2.3" stroke-linejoin="round" />
</g>
<path d="M591.20,349.80 H744.90 V503.70" fill="none" stroke="#4a4a4a" stroke-width="1.15"/>
<path d="M591.20,349.30 V503.70 H745.40" fill="none" stroke="#262626" stroke-width="1.15" stroke-linejoin="miter"/>
<line x1="591.20" y1="503.70" x2="591.20" y2="508.50" stroke="#333" stroke-width="1"/>
<text x="591.20" y="524.30" font-size="16.8" text-anchor="middle" fill="#363636"  >0</text>
<line x1="625.36" y1="503.70" x2="625.36" y2="506.20" stroke="#333" stroke-width="1"/>
<line x1="659.51" y1="503.70" x2="659.51" y2="508.50" stroke="#333" stroke-width="1"/>
<text x="659.51" y="524.30" font-size="16.8" text-anchor="middle" fill="#363636"  >1</text>
<line x1="693.67" y1="503.70" x2="693.67" y2="506.20" stroke="#333" stroke-width="1"/>
<line x1="727.82" y1="503.70" x2="727.82" y2="508.50" stroke="#333" stroke-width="1"/>
<text x="727.82" y="524.30" font-size="16.8" text-anchor="middle" fill="#363636"  >2</text>
<line x1="588.70" y1="503.70" x2="591.20" y2="503.70" stroke="#333" stroke-width="1"/>
<line x1="586.40" y1="492.71" x2="591.20" y2="492.71" stroke="#333" stroke-width="1"/>
<text x="579.60" y="496.81" font-size="16.8" text-anchor="end" fill="#363636"  >9</text>
<path d="M559.90,492.11 h9.8" stroke="#363636" stroke-width="1.0" fill="none"/>
<line x1="588.70" y1="481.71" x2="591.20" y2="481.71" stroke="#333" stroke-width="1"/>
<line x1="588.70" y1="470.72" x2="591.20" y2="470.72" stroke="#333" stroke-width="1"/>
<line x1="586.40" y1="459.73" x2="591.20" y2="459.73" stroke="#333" stroke-width="1"/>
<text x="579.60" y="463.83" font-size="16.8" text-anchor="end" fill="#363636"  >6</text>
<path d="M559.90,459.13 h9.8" stroke="#363636" stroke-width="1.0" fill="none"/>
<line x1="588.70" y1="448.74" x2="591.20" y2="448.74" stroke="#333" stroke-width="1"/>
<line x1="588.70" y1="437.74" x2="591.20" y2="437.74" stroke="#333" stroke-width="1"/>
<line x1="586.40" y1="426.75" x2="591.20" y2="426.75" stroke="#333" stroke-width="1"/>
<text x="579.60" y="430.85" font-size="16.8" text-anchor="end" fill="#363636"  >3</text>
<path d="M559.90,426.15 h9.8" stroke="#363636" stroke-width="1.0" fill="none"/>
<line x1="588.70" y1="415.76" x2="591.20" y2="415.76" stroke="#333" stroke-width="1"/>
<line x1="588.70" y1="404.76" x2="591.20" y2="404.76" stroke="#333" stroke-width="1"/>
<line x1="586.40" y1="393.77" x2="591.20" y2="393.77" stroke="#333" stroke-width="1"/>
<text x="579.60" y="397.87" font-size="16.8" text-anchor="end" fill="#363636"  >0</text>
<line x1="588.70" y1="382.78" x2="591.20" y2="382.78" stroke="#333" stroke-width="1"/>
<line x1="588.70" y1="371.79" x2="591.20" y2="371.79" stroke="#333" stroke-width="1"/>
<line x1="586.40" y1="360.79" x2="591.20" y2="360.79" stroke="#333" stroke-width="1"/>
<text x="579.60" y="364.89" font-size="16.8" text-anchor="end" fill="#363636"  >3</text>
<line x1="588.70" y1="349.80" x2="591.20" y2="349.80" stroke="#333" stroke-width="1"/>
<text x="646.90" y="541.50" font-size="19.5" text-anchor="start" fill="#363636" font-style="italic" >r</text>
<text x="654.70" y="544.50" font-size="14" text-anchor="start" fill="#363636" font-style="italic" >z</text>
<line x1="662.60" y1="545.40" x2="669.70" y2="528.10" stroke="#363636" stroke-width="1.1"/>
<text x="671.30" y="541.50" font-size="19" text-anchor="start" fill="#363636" font-style="italic" >R</text>
<text x="181.50" y="270.20" font-size="15.5" text-anchor="start" fill="#363636" font-style="italic" >θ</text>
<text x="188.50" y="272.80" font-size="10.8" text-anchor="start" fill="#363636"  >p</text>
<path d="M199.60,265.30 h9.8 M199.60,268.40 h9.8" stroke="#363636" stroke-width="0.95" fill="none"/>
<text x="213.90" y="270.20" font-size="15.5" text-anchor="start" fill="#363636"  >0</text>
<text x="181.50" y="467.80" font-size="15.5" text-anchor="start" fill="#363636" font-style="italic" >θ</text>
<text x="188.50" y="470.40" font-size="10.8" text-anchor="start" fill="#363636"  >p</text>
<path d="M199.60,462.90 h9.8 M199.60,466.00 h9.8" stroke="#363636" stroke-width="0.95" fill="none"/>
<text x="213.90" y="467.80" font-size="15.5" text-anchor="start" fill="#363636"  >0</text>
<text x="411.40" y="261.90" font-size="15.5" text-anchor="start" fill="#363636" font-style="italic" >θ</text>
<text x="418.40" y="264.50" font-size="10.8" text-anchor="start" fill="#363636"  >p</text>
<path d="M429.50,257.00 h9.8 M429.50,260.10 h9.8" stroke="#363636" stroke-width="0.95" fill="none"/>
<text x="444.70" y="261.80" font-size="12.2" text-anchor="start" fill="#363636"  >30°</text>
<line x1="467.90" y1="258.60" x2="485.90" y2="258.60" stroke="#000" stroke-width="2.3"/>
<text x="444.70" y="273.80" font-size="12.2" text-anchor="start" fill="#363636"  >60°</text>
<line x1="467.90" y1="270.60" x2="485.90" y2="270.60" stroke="#0a70b8" stroke-width="2.3"/>
<text x="444.70" y="285.80" font-size="12.2" text-anchor="start" fill="#363636"  >90°</text>
<line x1="467.90" y1="282.60" x2="485.90" y2="282.60" stroke="#e6200f" stroke-width="2.3"/>
<text x="407.50" y="474.20" font-size="15.5" text-anchor="start" fill="#363636" font-style="italic" >θ</text>
<text x="414.50" y="476.80" font-size="10.8" text-anchor="start" fill="#363636"  >p</text>
<path d="M425.60,469.30 h9.8 M425.60,472.40 h9.8" stroke="#363636" stroke-width="0.95" fill="none"/>
<text x="440.80" y="474.10" font-size="12.2" text-anchor="start" fill="#363636"  >30°</text>
<line x1="464.00" y1="470.90" x2="482.00" y2="470.90" stroke="#000" stroke-width="2.3"/>
<text x="440.80" y="486.10" font-size="12.2" text-anchor="start" fill="#363636"  >60°</text>
<line x1="464.00" y1="482.90" x2="482.00" y2="482.90" stroke="#0a70b8" stroke-width="2.3"/>
<text x="440.80" y="498.10" font-size="12.2" text-anchor="start" fill="#363636"  >90°</text>
<line x1="464.00" y1="494.90" x2="482.00" y2="494.90" stroke="#e6200f" stroke-width="2.3"/>
<text x="662.50" y="261.90" font-size="15.5" text-anchor="start" fill="#363636" font-style="italic" >θ</text>
<text x="669.50" y="264.50" font-size="10.8" text-anchor="start" fill="#363636"  >p</text>
<path d="M680.60,257.00 h9.8 M680.60,260.10 h9.8" stroke="#363636" stroke-width="0.95" fill="none"/>
<text x="695.80" y="261.80" font-size="12.2" text-anchor="start" fill="#363636"  >30°</text>
<line x1="719.00" y1="258.60" x2="737.00" y2="258.60" stroke="#000" stroke-width="2.3"/>
<text x="695.80" y="273.80" font-size="12.2" text-anchor="start" fill="#363636"  >60°</text>
<line x1="719.00" y1="270.60" x2="737.00" y2="270.60" stroke="#0a70b8" stroke-width="2.3"/>
<text x="695.80" y="285.80" font-size="12.2" text-anchor="start" fill="#363636"  >90°</text>
<line x1="719.00" y1="282.60" x2="737.00" y2="282.60" stroke="#e6200f" stroke-width="2.3"/>
<text x="662.50" y="474.20" font-size="15.5" text-anchor="start" fill="#363636" font-style="italic" >θ</text>
<text x="669.50" y="476.80" font-size="10.8" text-anchor="start" fill="#363636"  >p</text>
<path d="M680.60,469.30 h9.8 M680.60,472.40 h9.8" stroke="#363636" stroke-width="0.95" fill="none"/>
<text x="695.80" y="474.10" font-size="12.2" text-anchor="start" fill="#363636"  >30°</text>
<line x1="719.00" y1="470.90" x2="737.00" y2="470.90" stroke="#000" stroke-width="2.3"/>
<text x="695.80" y="486.10" font-size="12.2" text-anchor="start" fill="#363636"  >60°</text>
<line x1="719.00" y1="482.90" x2="737.00" y2="482.90" stroke="#0a70b8" stroke-width="2.3"/>
<text x="695.80" y="498.10" font-size="12.2" text-anchor="start" fill="#363636"  >90°</text>
<line x1="719.00" y1="494.90" x2="737.00" y2="494.90" stroke="#e6200f" stroke-width="2.3"/>
<line x1="0" y1="214.1" x2="35" y2="214.1" stroke="#111" stroke-width="1.3"/>
<g fill="none" stroke="#111" stroke-linecap="round" stroke-linejoin="round"><path d="M12.4,196 L10.1,198.3" stroke-width="0.8"/><path d="M10.1,198.3 C10.5,200.5 12.8,201.5 12.6,203.2" stroke-width="1.7"/><path d="M12.6,203.2 L9.2,206.2" stroke-width="0.9"/><path d="M9.2,206.2 C11,206.2 12.5,208 14.5,207.4 L16.6,205.6" stroke-width="1.5"/><path d="M18.4,196.2 L16.9,197.8" stroke-width="0.8"/><path d="M17.0,197.6 L17.3,206.8" stroke-width="1.7"/><path d="M17.3,207 C18,207.5 19,206.8 19.8,206" stroke-width="1.0"/></g>
<text x="20.00" y="210.40" font-size="10.6" text-anchor="start" fill="#111"  >c</text>
<text x="1.00" y="229.90" font-size="16.5" text-anchor="start" fill="#111" font-style="italic" >k</text>
<text x="9.20" y="231.70" font-size="11.5" text-anchor="start" fill="#111"  >B</text>
<text x="17.60" y="229.90" font-size="16.5" text-anchor="start" fill="#111" font-style="italic" >T</text>
<text x="27.80" y="231.70" font-size="11.5" text-anchor="start" fill="#111"  >c</text>
<line x1="0" y1="429.3" x2="43.4" y2="429.3" stroke="#111" stroke-width="1.2"/>
<text x="0.80" y="423.00" font-size="16.8" text-anchor="start" fill="#111" font-style="italic" >R</text>
<g fill="none" stroke="#111" stroke-linecap="round" stroke-linejoin="round"><path d="M16.4,413.6 C17.5,412 18.5,411.4 20,412 C22,412.8 23.5,413.4 25.8,412.2" stroke-width="1.3"/><path d="M20.4,413 L20.4,419.6" stroke-width="1.6"/><path d="M19.4,416.4 L24.2,416.4" stroke-width="1.0"/><path d="M17.0,419.8 C16.8,422 17.4,424.3 19.5,424.6 C21.5,424.8 23.2,423 23.0,421.3 C22.8,419.8 22,419.2 21.2,418.8" stroke-width="1.4"/></g>
<text x="26.40" y="414.20" font-size="12" text-anchor="start" fill="#111"  >(2)</text>
<text x="26.20" y="424.40" font-size="10.4" text-anchor="start" fill="#111"  >c</text>
<text x="31.60" y="424.40" font-size="10.4" text-anchor="start" fill="#111"  >,</text>
<text x="35.40" y="424.40" font-size="10.8" text-anchor="start" fill="#111" font-style="italic" >z</text>
<text x="4.60" y="445.30" font-size="16.5" text-anchor="start" fill="#111" font-style="italic" >k</text>
<text x="12.80" y="447.10" font-size="11.5" text-anchor="start" fill="#111"  >B</text>
<text x="21.20" y="445.30" font-size="16.5" text-anchor="start" fill="#111" font-style="italic" >T</text>
<text x="31.40" y="447.10" font-size="11.5" text-anchor="start" fill="#111"  >c</text>
</svg>
</body></html>
